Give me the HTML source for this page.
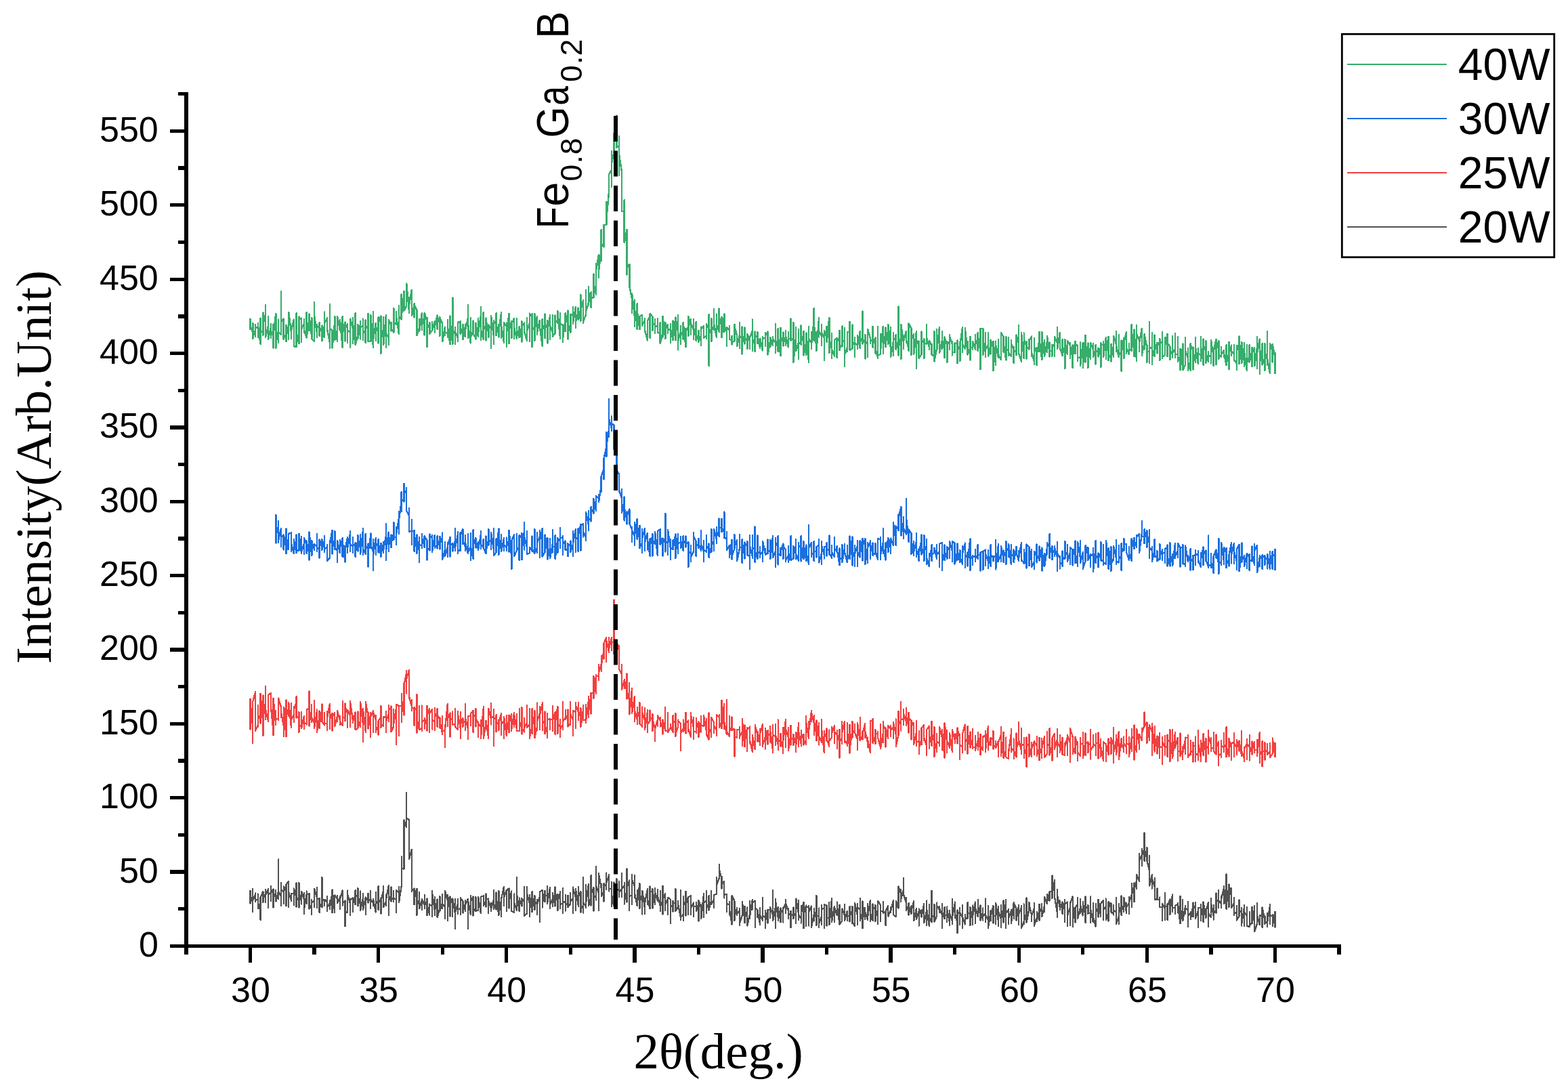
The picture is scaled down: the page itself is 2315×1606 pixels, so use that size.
<!DOCTYPE html>
<html lang="en"><head><meta charset="utf-8"><title>XRD patterns</title>
<style>html,body{margin:0;padding:0;background:#fff;}body{width:2315px;height:1606px;overflow:hidden;}svg{display:block;}</style>
</head><body>
<svg width="2315" height="1606" viewBox="0 0 2315 1606">
<rect width="2315" height="1606" fill="#fff"/>
<g id="traces"><polyline fill="none" stroke="#515151" stroke-width="2.35" stroke-linejoin="round" shape-rendering="crispEdges" points="369.5,1328.3 369.5,1315.0 369.5,1333.7 369.5,1333.6 373.3,1322.4 373.3,1346.4 373.3,1311.9 373.3,1328.5 377.1,1320.5 377.1,1330.9 377.1,1318.5 377.1,1328.7 380.8,1328.1 380.8,1319.5 380.8,1341.4 380.8,1332.6 384.6,1345.0 384.6,1358.2 384.6,1324.7 388.4,1315.9 388.4,1332.1 388.4,1327.2 392.2,1318.6 392.2,1313.4 392.2,1331.8 392.2,1320.9 396.0,1312.2 396.0,1340.2 396.0,1321.3 399.8,1317.1 399.8,1329.7 399.8,1308.2 399.8,1318.0 403.5,1312.4 403.5,1339.7 403.5,1318.4 407.3,1324.4 407.3,1314.0 407.3,1330.5 411.1,1315.7 411.1,1268.5 411.1,1326.9 411.1,1315.5 414.9,1323.3 414.9,1303.4 414.9,1337.3 414.9,1312.5 418.7,1316.7 418.7,1308.6 418.7,1334.0 418.7,1315.5 422.5,1308.1 422.5,1337.3 422.5,1305.8 426.2,1300.7 426.2,1338.9 426.2,1317.2 430.0,1329.1 430.0,1329.7 430.0,1318.6 433.8,1319.6 433.8,1336.2 433.8,1311.5 437.6,1325.7 437.6,1338.5 437.6,1303.3 437.6,1324.1 441.4,1329.5 441.4,1339.6 441.4,1303.3 441.4,1332.3 445.1,1320.0 445.1,1334.5 445.1,1315.9 448.9,1326.9 448.9,1318.0 448.9,1349.3 448.9,1342.6 452.7,1320.2 452.7,1334.3 452.7,1315.6 452.7,1320.9 456.5,1319.0 456.5,1341.5 460.3,1335.9 460.3,1328.2 460.3,1350.4 460.3,1332.0 464.1,1329.2 464.1,1339.2 464.1,1311.6 467.8,1324.3 467.8,1310.4 467.8,1340.1 467.8,1327.2 471.6,1326.2 471.6,1346.9 471.6,1333.5 475.4,1339.3 475.4,1295.2 475.4,1328.6 479.2,1328.6 479.2,1336.7 479.2,1327.8 483.0,1331.6 483.0,1345.1 483.0,1322.8 483.0,1339.1 486.8,1333.6 486.8,1328.7 486.8,1342.4 486.8,1340.1 490.5,1318.4 490.5,1347.2 490.5,1313.6 494.3,1346.9 494.3,1321.5 498.1,1326.8 498.1,1322.0 498.1,1332.8 501.9,1325.1 501.9,1323.5 501.9,1342.4 501.9,1327.8 505.7,1314.4 505.7,1336.6 505.7,1332.6 509.5,1330.5 509.5,1367.0 509.5,1329.4 509.5,1346.2 513.2,1346.6 513.2,1314.5 513.2,1320.3 517.0,1333.9 517.0,1350.5 517.0,1326.8 517.0,1328.2 520.8,1325.5 520.8,1346.1 520.8,1334.7 524.6,1321.2 524.6,1313.8 524.6,1335.3 524.6,1324.0 528.4,1320.6 528.4,1310.7 528.4,1337.3 532.1,1324.9 532.1,1315.5 532.1,1343.6 535.9,1325.9 535.9,1343.0 535.9,1318.7 535.9,1342.7 539.7,1324.9 539.7,1350.0 539.7,1324.4 543.5,1329.2 543.5,1332.9 543.5,1318.9 543.5,1329.3 547.3,1327.8 547.3,1341.3 547.3,1315.3 547.3,1327.3 551.1,1333.5 551.1,1327.2 551.1,1337.3 551.1,1327.8 554.8,1346.4 554.8,1317.1 554.8,1334.1 558.6,1328.8 558.6,1308.2 558.6,1343.1 558.6,1326.8 562.4,1333.3 562.4,1348.4 562.4,1325.4 562.4,1330.4 566.2,1313.5 566.2,1307.7 566.2,1338.9 570.0,1330.1 570.0,1321.1 570.0,1337.1 570.0,1327.3 573.8,1307.2 573.8,1351.3 573.8,1322.6 577.5,1330.5 577.5,1309.2 577.5,1328.7 581.3,1324.8 581.3,1331.4 581.3,1314.9 581.3,1325.6 585.1,1328.0 585.1,1347.3 585.1,1314.0 588.9,1317.3 588.9,1309.0 588.9,1332.3 592.7,1308.0 592.7,1264.5 592.7,1281.7 596.5,1282.6 596.5,1210.6 600.2,1221.0 600.2,1170.3 600.2,1207.5 604.0,1210.2 604.0,1267.9 607.8,1254.1 607.8,1315.6 611.6,1311.6 611.6,1335.3 611.6,1327.4 615.4,1311.7 615.4,1351.1 615.4,1336.6 619.1,1328.5 619.1,1316.8 619.1,1341.3 622.9,1328.5 622.9,1342.6 622.9,1327.4 626.7,1335.6 626.7,1340.7 626.7,1320.9 626.7,1329.7 630.5,1337.0 630.5,1326.5 630.5,1351.1 634.3,1336.6 634.3,1350.5 634.3,1334.6 634.3,1335.2 638.1,1337.2 638.1,1353.2 638.1,1314.8 638.1,1318.3 641.8,1343.5 641.8,1351.2 641.8,1323.6 641.8,1331.8 645.6,1344.3 645.6,1327.4 645.6,1354.1 649.4,1341.2 649.4,1323.3 649.4,1344.4 653.2,1332.4 653.2,1340.6 653.2,1320.0 653.2,1334.3 657.0,1338.9 657.0,1356.0 657.0,1314.9 660.8,1329.8 660.8,1359.2 660.8,1320.7 664.5,1344.4 664.5,1352.7 664.5,1323.5 668.3,1334.8 668.3,1352.7 668.3,1326.5 672.1,1349.7 672.1,1327.2 672.1,1371.3 672.1,1347.0 675.9,1334.0 675.9,1349.0 675.9,1326.6 675.9,1343.2 679.7,1340.5 679.7,1325.2 679.7,1349.8 679.7,1325.6 683.4,1329.9 683.4,1347.6 683.4,1345.6 687.2,1333.7 687.2,1344.8 687.2,1329.4 687.2,1335.5 691.0,1326.8 691.0,1371.3 691.0,1329.0 694.8,1349.5 694.8,1322.4 694.8,1350.3 694.8,1330.3 698.6,1323.4 698.6,1351.6 698.6,1340.4 702.4,1345.0 702.4,1324.2 702.4,1344.6 706.1,1344.1 706.1,1323.6 709.9,1348.0 709.9,1323.6 713.7,1322.6 713.7,1322.4 713.7,1336.9 717.5,1329.6 717.5,1319.6 717.5,1338.8 717.5,1326.4 721.3,1327.5 721.3,1326.5 721.3,1348.1 721.3,1330.2 725.1,1341.0 725.1,1345.1 725.1,1333.1 725.1,1341.5 728.8,1328.7 728.8,1313.9 728.8,1342.0 732.6,1333.4 732.6,1342.4 732.6,1317.5 732.6,1325.0 736.4,1351.1 736.4,1315.2 736.4,1348.9 740.2,1328.3 740.2,1325.9 740.2,1352.9 740.2,1326.8 744.0,1308.7 744.0,1336.8 744.0,1324.6 747.8,1314.3 747.8,1345.1 747.8,1314.6 751.5,1311.2 751.5,1340.4 751.5,1315.7 755.3,1328.5 755.3,1315.5 755.3,1344.9 759.1,1346.6 759.1,1319.5 759.1,1332.7 762.9,1343.7 762.9,1295.2 762.9,1318.7 766.7,1345.1 766.7,1325.5 766.7,1335.5 770.4,1328.4 770.4,1326.1 770.4,1337.4 770.4,1331.1 774.2,1327.2 774.2,1308.7 774.2,1351.7 778.0,1348.4 778.0,1308.7 778.0,1318.7 781.8,1333.0 781.8,1353.0 781.8,1320.6 781.8,1343.9 785.6,1319.6 785.6,1346.3 785.6,1316.2 785.6,1341.9 789.4,1322.3 789.4,1322.1 789.4,1342.8 789.4,1329.8 793.1,1335.0 793.1,1328.3 793.1,1349.7 793.1,1334.6 796.9,1323.8 796.9,1360.8 796.9,1316.6 800.7,1313.8 800.7,1339.5 800.7,1333.6 804.5,1314.8 804.5,1331.0 804.5,1321.9 808.3,1321.5 808.3,1334.1 808.3,1308.2 808.3,1332.2 812.1,1309.7 812.1,1341.3 812.1,1335.2 815.8,1326.9 815.8,1337.9 815.8,1318.4 819.6,1337.4 819.6,1309.6 819.6,1316.8 823.4,1331.6 823.4,1344.3 823.4,1320.3 823.4,1329.3 827.2,1317.9 827.2,1340.6 827.2,1315.6 827.2,1335.6 831.0,1333.1 831.0,1311.0 831.0,1347.9 831.0,1331.3 834.7,1331.6 834.7,1344.5 834.7,1321.1 834.7,1333.5 838.5,1336.0 838.5,1322.0 838.5,1339.1 842.3,1334.1 842.3,1318.4 842.3,1330.8 846.1,1325.4 846.1,1348.2 846.1,1309.5 846.1,1311.9 849.9,1324.1 849.9,1344.0 849.9,1311.9 853.7,1336.1 853.7,1309.1 853.7,1338.4 853.7,1324.5 857.4,1315.8 857.4,1346.5 857.4,1336.4 861.2,1341.0 861.2,1347.5 861.2,1294.6 861.2,1332.6 865.0,1337.7 865.0,1306.1 865.0,1339.6 865.0,1333.5 868.8,1306.5 868.8,1304.7 868.8,1337.2 872.6,1324.3 872.6,1336.7 872.6,1291.8 872.6,1320.2 876.4,1310.0 876.4,1344.5 876.4,1326.2 880.1,1321.5 880.1,1279.0 880.1,1328.5 880.1,1308.1 883.9,1318.1 883.9,1344.2 883.9,1289.4 887.7,1310.5 887.7,1305.3 887.7,1322.8 891.5,1315.4 891.5,1330.4 891.5,1304.1 895.3,1308.1 895.3,1288.5 895.3,1312.9 895.3,1303.1 899.1,1291.5 899.1,1315.5 899.1,1312.1 902.8,1311.5 902.8,1301.9 902.8,1337.6 906.6,1317.8 906.6,1337.6 906.6,1302.3 910.4,1334.3 910.4,1297.3 910.4,1312.7 914.2,1314.6 914.2,1301.3 914.2,1323.8 914.2,1316.7 918.0,1312.5 918.0,1288.6 918.0,1323.7 918.0,1311.9 921.7,1307.7 921.7,1303.1 921.7,1334.5 921.7,1315.6 925.5,1331.4 925.5,1282.1 925.5,1299.1 929.3,1309.6 929.3,1299.5 929.3,1343.8 929.3,1323.0 933.1,1321.3 933.1,1335.0 933.1,1291.0 933.1,1299.0 936.9,1308.2 936.9,1291.6 936.9,1325.4 936.9,1317.9 940.7,1337.0 940.7,1314.0 940.7,1333.9 944.4,1304.2 944.4,1341.2 944.4,1331.8 948.2,1321.2 948.2,1349.5 948.2,1314.6 952.0,1340.7 952.0,1348.9 952.0,1325.7 952.0,1333.4 955.8,1313.4 955.8,1312.2 955.8,1335.4 955.8,1326.7 959.6,1341.3 959.6,1308.6 959.6,1316.4 963.4,1315.7 963.4,1311.9 963.4,1340.5 963.4,1314.8 967.1,1335.1 967.1,1310.8 967.1,1317.2 970.9,1329.5 970.9,1329.7 970.9,1313.3 970.9,1322.8 974.7,1336.4 974.7,1315.1 974.7,1345.2 974.7,1329.4 978.5,1339.1 978.5,1349.4 978.5,1307.7 978.5,1327.7 982.3,1319.1 982.3,1344.4 982.3,1335.2 986.0,1326.2 986.0,1350.3 986.0,1324.6 989.8,1327.9 989.8,1362.6 989.8,1336.3 993.6,1339.2 993.6,1329.7 993.6,1345.5 993.6,1332.5 997.4,1333.4 997.4,1312.3 997.4,1344.9 1001.2,1338.6 1001.2,1329.6 1001.2,1335.3 1005.0,1354.9 1005.0,1358.3 1005.0,1314.1 1005.0,1354.2 1008.7,1349.7 1008.7,1323.4 1008.7,1359.3 1008.7,1336.2 1012.5,1330.2 1012.5,1316.0 1012.5,1351.9 1012.5,1335.4 1016.3,1323.8 1016.3,1350.2 1016.3,1324.2 1020.1,1322.5 1020.1,1350.1 1020.1,1340.6 1023.9,1332.5 1023.9,1352.8 1023.9,1337.4 1027.7,1338.6 1027.7,1332.4 1027.7,1345.3 1031.4,1334.3 1031.4,1359.6 1031.4,1328.9 1035.2,1339.9 1035.2,1336.1 1035.2,1356.2 1039.0,1319.5 1039.0,1353.9 1039.0,1332.1 1042.8,1330.0 1042.8,1315.4 1042.8,1347.6 1042.8,1335.0 1046.6,1340.7 1046.6,1321.8 1046.6,1343.4 1046.6,1343.2 1050.3,1328.3 1050.3,1314.8 1050.3,1334.9 1054.1,1328.0 1054.1,1340.3 1054.1,1321.0 1057.9,1319.8 1057.9,1295.0 1057.9,1307.2 1061.7,1296.3 1061.7,1276.0 1061.7,1283.0 1065.5,1297.2 1065.5,1293.8 1065.5,1311.4 1065.5,1305.5 1069.3,1300.8 1069.3,1325.5 1069.3,1320.8 1073.0,1319.9 1073.0,1346.1 1073.0,1333.5 1076.8,1335.6 1076.8,1350.0 1076.8,1331.2 1076.8,1341.5 1080.6,1364.7 1080.6,1321.9 1084.4,1330.0 1084.4,1358.9 1084.4,1339.3 1088.2,1350.9 1088.2,1339.8 1088.2,1348.8 1092.0,1343.9 1092.0,1340.8 1092.0,1365.7 1092.0,1363.4 1095.7,1351.3 1095.7,1330.9 1099.5,1357.8 1099.5,1337.8 1099.5,1362.0 1099.5,1355.4 1103.3,1344.8 1103.3,1339.5 1103.3,1366.5 1107.1,1348.8 1107.1,1355.8 1107.1,1329.9 1107.1,1352.4 1110.9,1327.6 1110.9,1342.5 1110.9,1333.0 1114.7,1329.7 1114.7,1369.3 1114.7,1339.6 1118.4,1343.4 1118.4,1353.7 1118.4,1343.4 1122.2,1365.1 1122.2,1340.0 1122.2,1351.1 1126.0,1357.9 1126.0,1359.0 1126.0,1325.3 1126.0,1351.7 1129.8,1354.1 1129.8,1369.6 1129.8,1344.4 1133.6,1362.7 1133.6,1342.7 1137.3,1343.2 1137.3,1354.7 1137.3,1338.8 1137.3,1340.6 1141.1,1350.7 1141.1,1313.8 1141.1,1358.9 1141.1,1358.8 1144.9,1339.2 1144.9,1369.8 1144.9,1326.9 1144.9,1329.7 1148.7,1353.5 1148.7,1338.8 1148.7,1358.8 1152.5,1340.2 1152.5,1361.2 1152.5,1347.9 1156.3,1342.6 1156.3,1339.9 1156.3,1361.5 1156.3,1341.7 1160.0,1333.8 1160.0,1328.1 1160.0,1348.3 1160.0,1333.5 1163.8,1344.6 1163.8,1340.8 1163.8,1356.3 1163.8,1349.5 1167.6,1349.3 1167.6,1369.3 1167.6,1344.7 1167.6,1348.7 1171.4,1352.0 1171.4,1339.6 1171.4,1356.2 1171.4,1347.9 1175.2,1351.5 1175.2,1363.2 1175.2,1326.5 1179.0,1349.2 1179.0,1329.3 1179.0,1357.7 1179.0,1349.8 1182.7,1356.0 1182.7,1337.2 1182.7,1362.5 1182.7,1348.5 1186.5,1332.0 1186.5,1370.3 1186.5,1349.3 1190.3,1336.5 1190.3,1366.9 1190.3,1338.3 1194.1,1339.2 1194.1,1366.5 1194.1,1337.2 1194.1,1346.5 1197.9,1337.5 1197.9,1369.2 1201.7,1349.7 1201.7,1359.3 1201.7,1341.3 1201.7,1343.9 1205.4,1356.2 1205.4,1366.2 1205.4,1321.7 1205.4,1352.7 1209.2,1351.2 1209.2,1368.7 1209.2,1340.5 1209.2,1363.5 1213.0,1351.8 1213.0,1364.7 1213.0,1336.3 1213.0,1341.8 1216.8,1340.7 1216.8,1370.4 1216.8,1335.2 1220.6,1336.7 1220.6,1366.5 1220.6,1355.0 1224.3,1354.7 1224.3,1332.4 1224.3,1365.2 1228.1,1326.1 1228.1,1360.6 1231.9,1337.8 1231.9,1360.6 1231.9,1338.5 1235.7,1351.1 1235.7,1331.6 1235.7,1335.8 1239.5,1364.4 1239.5,1335.9 1239.5,1364.2 1243.3,1359.4 1243.3,1360.1 1243.3,1341.5 1247.0,1351.2 1247.0,1334.9 1247.0,1358.9 1250.8,1344.9 1250.8,1358.6 1250.8,1351.2 1254.6,1352.9 1254.6,1337.8 1254.6,1360.3 1254.6,1353.0 1258.4,1343.6 1258.4,1363.0 1258.4,1338.0 1258.4,1360.5 1262.2,1367.2 1262.2,1333.4 1266.0,1351.8 1266.0,1334.3 1266.0,1365.0 1266.0,1339.6 1269.7,1342.0 1269.7,1326.0 1269.7,1358.7 1273.5,1346.2 1273.5,1330.6 1273.5,1370.3 1273.5,1334.3 1277.3,1357.2 1277.3,1340.2 1277.3,1346.1 1281.1,1357.6 1281.1,1333.9 1281.1,1353.3 1284.9,1329.0 1284.9,1359.7 1288.6,1345.7 1288.6,1334.3 1288.6,1358.8 1288.6,1342.5 1292.4,1339.5 1292.4,1360.1 1292.4,1336.1 1292.4,1355.2 1296.2,1342.0 1296.2,1363.6 1296.2,1330.0 1300.0,1336.0 1300.0,1359.5 1300.0,1344.2 1303.8,1346.0 1303.8,1330.6 1303.8,1348.1 1307.6,1345.5 1307.6,1366.2 1307.6,1345.2 1311.3,1336.9 1311.3,1352.6 1315.1,1342.8 1315.1,1339.2 1315.1,1346.5 1315.1,1345.2 1318.9,1328.9 1318.9,1350.3 1318.9,1349.9 1322.7,1353.1 1322.7,1329.7 1322.7,1342.2 1326.5,1328.1 1326.5,1340.8 1326.5,1308.4 1330.3,1320.0 1330.3,1313.1 1330.3,1331.4 1330.3,1326.6 1334.0,1312.5 1334.0,1295.7 1334.0,1320.7 1334.0,1320.3 1337.8,1332.3 1337.8,1325.3 1337.8,1344.2 1337.8,1337.9 1341.6,1344.0 1341.6,1333.0 1341.6,1350.4 1341.6,1349.0 1345.4,1337.5 1345.4,1349.0 1345.4,1344.4 1349.2,1330.4 1349.2,1359.3 1353.0,1340.7 1353.0,1357.2 1356.7,1345.3 1356.7,1366.5 1356.7,1341.4 1360.5,1351.2 1360.5,1353.5 1360.5,1343.6 1360.5,1352.8 1364.3,1333.7 1364.3,1362.1 1368.1,1344.3 1368.1,1329.5 1368.1,1366.2 1368.1,1341.2 1371.9,1367.2 1371.9,1334.8 1371.9,1354.6 1375.6,1361.2 1375.6,1314.7 1375.6,1351.8 1379.4,1352.9 1379.4,1334.8 1379.4,1360.5 1383.2,1352.4 1383.2,1332.5 1383.2,1353.2 1383.2,1336.6 1387.0,1343.5 1387.0,1338.4 1387.0,1347.2 1387.0,1340.6 1390.8,1350.1 1390.8,1333.7 1390.8,1369.8 1390.8,1345.5 1394.6,1356.3 1394.6,1338.9 1394.6,1351.0 1398.3,1350.9 1398.3,1338.6 1398.3,1361.0 1398.3,1343.1 1402.1,1362.0 1402.1,1365.7 1402.1,1344.0 1402.1,1348.3 1405.9,1359.5 1405.9,1327.0 1405.9,1364.0 1405.9,1353.9 1409.7,1334.4 1409.7,1354.6 1409.7,1331.5 1409.7,1348.0 1413.5,1362.2 1413.5,1377.3 1413.5,1343.6 1413.5,1347.0 1417.3,1348.3 1417.3,1364.8 1417.3,1339.8 1417.3,1346.8 1421.0,1354.3 1421.0,1370.0 1421.0,1335.6 1421.0,1353.5 1424.8,1364.4 1424.8,1350.3 1424.8,1355.9 1428.6,1355.4 1428.6,1332.0 1428.6,1347.5 1432.4,1347.9 1432.4,1339.2 1432.4,1365.8 1432.4,1359.4 1436.2,1343.3 1436.2,1336.5 1436.2,1364.8 1436.2,1351.8 1439.9,1331.6 1439.9,1362.7 1439.9,1339.3 1443.7,1352.8 1443.7,1327.9 1443.7,1350.6 1447.5,1336.4 1447.5,1358.8 1447.5,1345.3 1451.3,1358.4 1451.3,1340.5 1451.3,1352.7 1455.1,1348.1 1455.1,1326.5 1455.1,1361.3 1455.1,1351.1 1458.9,1358.5 1458.9,1336.8 1458.9,1369.6 1462.6,1346.8 1462.6,1358.9 1462.6,1344.0 1462.6,1352.8 1466.4,1337.1 1466.4,1362.4 1466.4,1351.0 1470.2,1352.7 1470.2,1364.2 1470.2,1333.3 1474.0,1360.4 1474.0,1338.5 1474.0,1366.8 1474.0,1345.3 1477.8,1356.2 1477.8,1368.8 1477.8,1335.9 1477.8,1357.8 1481.6,1340.1 1481.6,1361.4 1481.6,1329.4 1485.3,1358.8 1485.3,1327.9 1485.3,1370.4 1485.3,1347.7 1489.1,1342.6 1489.1,1364.0 1489.1,1341.8 1489.1,1355.0 1492.9,1344.9 1492.9,1343.0 1492.9,1363.3 1496.7,1332.5 1496.7,1355.7 1496.7,1332.2 1500.5,1341.5 1500.5,1358.4 1504.2,1336.3 1504.2,1364.6 1504.2,1348.8 1508.0,1340.0 1508.0,1337.5 1508.0,1369.9 1511.8,1360.4 1511.8,1363.6 1511.8,1334.5 1511.8,1348.6 1515.6,1360.1 1515.6,1325.5 1515.6,1361.8 1519.4,1341.8 1519.4,1344.4 1519.4,1332.1 1519.4,1335.3 1523.2,1350.8 1523.2,1348.4 1523.2,1360.4 1523.2,1351.0 1526.9,1340.9 1526.9,1366.7 1526.9,1333.1 1526.9,1365.7 1530.7,1354.8 1530.7,1360.3 1530.7,1346.2 1530.7,1359.9 1534.5,1343.5 1534.5,1358.9 1534.5,1334.8 1534.5,1347.2 1538.3,1340.7 1538.3,1334.0 1538.3,1352.8 1542.1,1336.9 1542.1,1346.1 1542.1,1323.6 1545.9,1333.9 1545.9,1320.4 1545.9,1331.8 1549.6,1316.5 1549.6,1329.7 1549.6,1316.7 1553.4,1315.1 1553.4,1292.6 1553.4,1325.7 1553.4,1319.7 1557.2,1299.2 1557.2,1325.0 1561.0,1347.8 1561.0,1313.0 1561.0,1354.2 1561.0,1321.3 1564.8,1339.5 1564.8,1329.5 1564.8,1342.7 1564.8,1340.9 1568.6,1331.7 1568.6,1348.8 1568.6,1345.2 1572.3,1330.5 1572.3,1361.2 1572.3,1327.8 1572.3,1334.3 1576.1,1331.6 1576.1,1367.4 1576.1,1351.3 1579.9,1339.1 1579.9,1366.0 1579.9,1333.6 1583.7,1323.4 1583.7,1367.8 1583.7,1334.7 1587.5,1361.6 1587.5,1340.1 1591.2,1334.6 1591.2,1325.2 1591.2,1355.8 1595.0,1340.1 1595.0,1326.6 1595.0,1348.2 1595.0,1335.9 1598.8,1351.4 1598.8,1331.2 1598.8,1334.2 1602.6,1351.0 1602.6,1362.0 1602.6,1323.6 1602.6,1339.5 1606.4,1339.6 1606.4,1336.3 1606.4,1349.2 1606.4,1347.3 1610.2,1348.8 1610.2,1361.9 1610.2,1323.5 1610.2,1342.9 1613.9,1361.4 1613.9,1333.4 1613.9,1353.2 1617.7,1367.6 1617.7,1334.0 1617.7,1346.7 1621.5,1340.0 1621.5,1353.9 1621.5,1327.9 1625.3,1353.1 1625.3,1333.5 1629.1,1329.0 1629.1,1358.0 1629.1,1342.9 1632.9,1338.1 1632.9,1358.3 1632.9,1326.5 1632.9,1348.3 1636.6,1359.7 1636.6,1330.8 1640.4,1340.6 1640.4,1332.8 1640.4,1346.4 1644.2,1348.9 1644.2,1335.8 1644.2,1350.5 1644.2,1342.9 1648.0,1347.2 1648.0,1324.9 1648.0,1364.3 1651.8,1352.5 1651.8,1364.0 1651.8,1334.3 1651.8,1337.9 1655.6,1349.2 1655.6,1322.6 1655.6,1350.8 1655.6,1335.1 1659.3,1344.0 1659.3,1346.1 1659.3,1324.8 1663.1,1347.1 1663.1,1347.8 1663.1,1333.0 1663.1,1338.6 1666.9,1333.4 1666.9,1349.0 1666.9,1324.2 1666.9,1332.0 1670.7,1321.3 1670.7,1304.4 1670.7,1339.1 1670.7,1321.2 1674.5,1306.8 1674.5,1331.2 1674.5,1303.3 1674.5,1312.4 1678.2,1299.2 1678.2,1312.2 1678.2,1291.3 1682.0,1300.5 1682.0,1260.3 1682.0,1270.1 1685.8,1262.3 1685.8,1278.2 1685.8,1253.3 1689.6,1264.6 1689.6,1229.6 1689.6,1271.0 1689.6,1253.4 1693.4,1268.0 1693.4,1250.8 1693.4,1270.2 1697.2,1286.1 1697.2,1262.8 1697.2,1307.5 1700.9,1291.0 1700.9,1311.5 1700.9,1297.1 1704.7,1308.5 1704.7,1295.7 1704.7,1327.5 1708.5,1327.7 1708.5,1311.6 1708.5,1327.4 1712.3,1328.0 1712.3,1324.6 1712.3,1339.1 1716.1,1338.6 1716.1,1359.1 1716.1,1333.9 1719.9,1341.1 1719.9,1357.7 1719.9,1317.6 1719.9,1338.0 1723.6,1338.0 1723.6,1357.9 1723.6,1333.9 1723.6,1338.0 1727.4,1327.7 1727.4,1350.0 1727.4,1327.6 1727.4,1343.0 1731.2,1320.6 1731.2,1345.9 1731.2,1339.8 1735.0,1340.6 1735.0,1348.8 1735.0,1336.9 1738.8,1334.9 1738.8,1347.0 1738.8,1332.9 1742.5,1363.3 1742.5,1322.7 1742.5,1361.6 1746.3,1340.4 1746.3,1327.9 1746.3,1359.1 1750.1,1337.5 1750.1,1348.8 1750.1,1339.8 1753.9,1344.0 1753.9,1330.7 1753.9,1368.0 1753.9,1351.6 1757.7,1347.6 1757.7,1345.9 1757.7,1356.9 1761.5,1337.3 1761.5,1332.4 1761.5,1353.1 1761.5,1341.6 1765.2,1337.1 1765.2,1331.8 1765.2,1356.2 1765.2,1354.7 1769.0,1344.5 1769.0,1368.7 1769.0,1339.7 1772.8,1340.3 1772.8,1358.7 1772.8,1334.7 1772.8,1353.3 1776.6,1336.8 1776.6,1361.2 1776.6,1331.4 1780.4,1354.8 1780.4,1341.5 1780.4,1345.8 1784.2,1331.7 1784.2,1368.3 1784.2,1348.5 1787.9,1354.2 1787.9,1325.8 1787.9,1333.2 1791.7,1351.6 1791.7,1357.6 1791.7,1336.3 1791.7,1349.0 1795.5,1343.5 1795.5,1347.8 1795.5,1318.4 1795.5,1331.1 1799.3,1327.9 1799.3,1340.3 1799.3,1314.1 1799.3,1329.7 1803.1,1333.7 1803.1,1322.8 1803.1,1340.2 1803.1,1327.2 1806.9,1311.1 1806.9,1334.1 1806.9,1307.7 1806.9,1309.2 1810.6,1342.0 1810.6,1290.4 1810.6,1308.4 1814.4,1336.2 1814.4,1339.3 1814.4,1305.5 1818.2,1322.7 1818.2,1310.9 1818.2,1340.2 1822.0,1332.9 1822.0,1324.8 1822.0,1350.6 1822.0,1348.4 1825.8,1346.6 1825.8,1337.4 1825.8,1358.6 1829.5,1352.3 1829.5,1328.5 1829.5,1352.8 1829.5,1343.3 1833.3,1346.8 1833.3,1366.6 1833.3,1340.4 1833.3,1362.8 1837.1,1338.7 1837.1,1366.9 1837.1,1336.3 1837.1,1346.3 1840.9,1351.8 1840.9,1339.2 1840.9,1367.1 1844.7,1367.9 1844.7,1346.4 1844.7,1365.8 1848.5,1362.1 1848.5,1363.3 1848.5,1338.8 1852.2,1362.4 1852.2,1337.0 1852.2,1375.3 1856.0,1363.6 1856.0,1333.5 1856.0,1351.1 1859.8,1365.3 1859.8,1351.0 1863.6,1352.5 1863.6,1368.9 1863.6,1339.4 1867.4,1357.9 1867.4,1364.2 1867.4,1351.7 1867.4,1362.6 1871.2,1360.8 1871.2,1368.4 1871.2,1347.9 1871.2,1360.3 1874.9,1337.8 1874.9,1363.8 1874.9,1335.4 1874.9,1351.3 1878.7,1352.0 1878.7,1350.0 1878.7,1366.8 1882.5,1345.8 1882.5,1368.4 1882.5,1350.8"/>
<polyline fill="none" stroke="#F14040" stroke-width="2.35" stroke-linejoin="round" shape-rendering="crispEdges" points="369.5,1073.6 369.5,1031.7 369.5,1076.7 373.3,1039.1 373.3,1096.8 373.3,1035.3 377.1,1021.4 377.1,1078.7 380.8,1070.4 380.8,1072.8 380.8,1041.4 380.8,1055.0 384.6,1063.0 384.6,1023.7 384.6,1067.7 388.4,1026.5 388.4,1086.2 388.4,1033.8 392.2,1056.8 392.2,1012.6 392.2,1061.8 392.2,1047.6 396.0,1064.6 396.0,1026.0 399.8,1023.1 399.8,1046.0 399.8,1041.4 403.5,1079.4 403.5,1085.3 403.5,1030.9 407.3,1069.9 407.3,1048.8 407.3,1062.0 411.1,1060.7 411.1,1063.0 411.1,1030.5 414.9,1043.6 414.9,1042.2 414.9,1059.0 414.9,1050.2 418.7,1071.1 418.7,1043.7 418.7,1087.3 422.5,1033.2 422.5,1087.0 422.5,1044.8 426.2,1056.5 426.2,1036.9 430.0,1074.2 430.0,1037.7 430.0,1062.2 433.8,1055.0 433.8,1042.8 433.8,1065.7 433.8,1047.8 437.6,1036.1 437.6,1028.2 437.6,1059.6 441.4,1057.9 441.4,1050.8 441.4,1080.7 441.4,1072.1 445.1,1071.1 445.1,1051.3 445.1,1075.2 448.9,1056.7 448.9,1076.2 448.9,1067.1 452.7,1068.4 452.7,1069.5 452.7,1047.6 456.5,1045.8 456.5,1071.8 456.5,1020.3 456.5,1047.4 460.3,1066.1 460.3,1040.4 460.3,1059.3 464.1,1067.8 464.1,1034.0 464.1,1075.0 467.8,1050.7 467.8,1047.5 467.8,1080.9 471.6,1057.2 471.6,1074.8 471.6,1049.3 471.6,1070.4 475.4,1046.7 475.4,1039.4 475.4,1065.0 479.2,1070.4 479.2,1051.8 479.2,1067.7 483.0,1068.6 483.0,1078.2 483.0,1049.7 483.0,1059.6 486.8,1039.3 486.8,1076.4 486.8,1052.4 490.5,1063.7 490.5,1078.7 490.5,1052.7 494.3,1057.5 494.3,1052.0 494.3,1072.0 498.1,1057.0 498.1,1065.0 498.1,1049.1 501.9,1063.1 501.9,1056.6 501.9,1070.4 501.9,1065.2 505.7,1070.9 505.7,1035.0 505.7,1058.1 509.5,1060.0 509.5,1038.4 509.5,1064.1 509.5,1042.6 513.2,1053.7 513.2,1073.8 513.2,1048.0 517.0,1056.5 517.0,1073.1 517.0,1035.3 520.8,1062.4 520.8,1056.6 520.8,1066.8 520.8,1065.9 524.6,1051.6 524.6,1077.2 528.4,1075.2 528.4,1050.5 528.4,1061.9 532.1,1073.2 532.1,1035.7 535.9,1068.7 535.9,1094.7 535.9,1046.0 539.7,1078.7 539.7,1080.7 539.7,1035.8 543.5,1056.7 543.5,1075.7 543.5,1051.9 547.3,1074.3 547.3,1087.9 547.3,1052.1 547.3,1057.6 551.1,1049.9 551.1,1049.4 551.1,1080.8 551.1,1052.0 554.8,1062.0 554.8,1056.4 554.8,1081.1 554.8,1078.9 558.6,1071.2 558.6,1084.6 558.6,1064.1 562.4,1058.9 562.4,1073.9 562.4,1042.0 562.4,1068.7 566.2,1071.7 566.2,1058.1 566.2,1058.7 570.0,1058.6 570.0,1050.0 570.0,1081.3 570.0,1064.7 573.8,1053.5 573.8,1041.2 573.8,1065.4 573.8,1047.1 577.5,1045.2 577.5,1042.2 577.5,1080.3 581.3,1072.4 581.3,1046.9 581.3,1068.5 585.1,1044.7 585.1,1099.0 585.1,1039.8 588.9,1042.0 588.9,1086.3 588.9,1041.6 592.7,1042.4 592.7,1065.7 592.7,1024.0 592.7,1031.5 596.5,1055.8 596.5,1008.7 596.5,1011.2 600.2,992.6 600.2,1023.5 600.2,989.7 600.2,1001.8 604.0,989.5 604.0,1030.5 604.0,1028.2 607.8,1042.5 607.8,1032.9 607.8,1049.2 607.8,1044.4 611.6,1045.7 611.6,1071.1 611.6,1044.0 611.6,1048.3 615.4,1045.5 615.4,1081.5 615.4,1024.7 615.4,1079.9 619.1,1062.9 619.1,1041.8 619.1,1077.1 622.9,1074.7 622.9,1041.5 622.9,1078.7 622.9,1065.7 626.7,1062.9 626.7,1059.8 626.7,1075.5 626.7,1060.7 630.5,1071.4 630.5,1042.0 630.5,1078.6 630.5,1056.3 634.3,1045.9 634.3,1080.7 634.3,1052.9 638.1,1046.7 638.1,1076.5 638.1,1063.1 641.8,1064.9 641.8,1044.9 641.8,1077.9 641.8,1052.9 645.6,1059.0 645.6,1072.9 645.6,1045.8 645.6,1054.5 649.4,1062.4 649.4,1058.7 649.4,1074.5 649.4,1064.3 653.2,1082.9 653.2,1084.1 653.2,1056.8 653.2,1079.7 657.0,1077.5 657.0,1103.4 657.0,1069.8 657.0,1077.4 660.8,1038.7 660.8,1072.3 660.8,1053.2 664.5,1061.5 664.5,1087.6 664.5,1052.1 664.5,1059.0 668.3,1063.6 668.3,1050.5 668.3,1070.1 668.3,1069.0 672.1,1069.7 672.1,1046.2 672.1,1072.7 675.9,1076.7 675.9,1049.8 675.9,1053.8 679.7,1074.8 679.7,1051.1 679.7,1090.2 679.7,1069.0 683.4,1060.0 683.4,1073.3 683.4,1064.0 687.2,1066.3 687.2,1038.6 687.2,1077.6 687.2,1060.7 691.0,1076.1 691.0,1090.5 691.0,1057.1 694.8,1057.2 694.8,1071.4 694.8,1053.7 698.6,1048.8 698.6,1080.8 698.6,1056.0 702.4,1057.5 702.4,1045.9 702.4,1072.4 702.4,1060.4 706.1,1067.1 706.1,1066.8 706.1,1087.6 706.1,1068.2 709.9,1072.5 709.9,1062.9 709.9,1090.4 713.7,1045.5 713.7,1042.7 713.7,1090.3 717.5,1068.3 717.5,1075.9 717.5,1063.9 721.3,1090.3 721.3,1046.2 725.1,1061.3 725.1,1069.5 725.1,1038.3 725.1,1059.2 728.8,1057.8 728.8,1047.0 728.8,1101.2 728.8,1062.6 732.6,1058.1 732.6,1080.3 732.6,1055.2 732.6,1067.6 736.4,1067.7 736.4,1078.2 736.4,1062.5 736.4,1066.7 740.2,1053.3 740.2,1084.6 740.2,1068.5 744.0,1064.5 744.0,1090.0 744.0,1057.7 747.8,1085.9 747.8,1055.6 747.8,1063.4 751.5,1081.1 751.5,1055.3 751.5,1068.0 755.3,1054.1 755.3,1053.9 755.3,1079.0 755.3,1076.7 759.1,1051.7 759.1,1073.1 759.1,1054.8 762.9,1076.5 762.9,1054.3 762.9,1078.9 766.7,1078.9 766.7,1046.4 766.7,1064.7 770.4,1074.8 770.4,1044.3 770.4,1083.5 770.4,1074.9 774.2,1080.5 774.2,1059.6 774.2,1074.3 778.0,1067.0 778.0,1040.8 778.0,1074.1 781.8,1069.1 781.8,1046.3 781.8,1089.7 785.6,1071.4 785.6,1083.2 785.6,1045.8 785.6,1054.5 789.4,1072.5 789.4,1048.8 789.4,1089.3 793.1,1072.2 793.1,1077.5 793.1,1037.5 793.1,1064.9 796.9,1053.0 796.9,1043.1 796.9,1076.8 796.9,1055.7 800.7,1039.1 800.7,1037.4 800.7,1078.4 800.7,1068.4 804.5,1063.5 804.5,1050.1 804.5,1083.0 808.3,1071.3 808.3,1089.0 808.3,1052.9 808.3,1062.4 812.1,1060.7 812.1,1077.4 812.1,1062.0 815.8,1062.3 815.8,1078.7 815.8,1042.2 815.8,1051.8 819.6,1065.6 819.6,1051.1 819.6,1083.8 819.6,1068.1 823.4,1042.8 823.4,1082.8 823.4,1067.7 827.2,1073.2 827.2,1087.9 827.2,1062.4 827.2,1075.4 831.0,1070.0 831.0,1036.4 831.0,1077.4 831.0,1065.2 834.7,1059.5 834.7,1048.0 834.7,1062.2 834.7,1055.4 838.5,1062.4 838.5,1047.2 838.5,1072.5 842.3,1067.6 842.3,1069.6 842.3,1036.0 842.3,1054.7 846.1,1062.7 846.1,1085.6 846.1,1048.7 849.9,1051.7 849.9,1075.1 849.9,1037.4 849.9,1041.2 853.7,1050.5 853.7,1062.8 853.7,1036.7 853.7,1049.9 857.4,1058.9 857.4,1044.9 857.4,1073.0 861.2,1047.1 861.2,1041.2 861.2,1063.3 865.0,1061.8 865.0,1039.6 865.0,1067.1 865.0,1065.0 868.8,1035.6 868.8,1058.8 868.8,1028.1 872.6,1053.7 872.6,1022.7 876.4,1023.4 876.4,997.7 876.4,1031.2 880.1,996.0 880.1,1023.7 880.1,998.5 883.9,997.6 883.9,1004.1 883.9,980.9 883.9,993.7 887.7,980.6 887.7,991.3 887.7,968.1 887.7,982.3 891.5,961.0 891.5,972.4 891.5,949.5 895.3,941.2 895.3,977.3 895.3,945.5 899.1,962.7 899.1,941.1 899.1,957.7 902.8,941.8 902.8,941.4 902.8,959.8 902.8,948.7 906.6,947.1 906.6,885.5 906.6,965.7 906.6,954.0 910.4,955.8 910.4,959.2 910.4,947.4 914.2,960.5 914.2,953.0 914.2,988.1 918.0,995.8 918.0,981.2 918.0,1018.2 921.7,1004.3 921.7,1016.1 921.7,1003.2 925.5,1020.9 925.5,1031.8 925.5,994.4 925.5,1019.6 929.3,1034.5 929.3,1008.4 929.3,1054.6 933.1,1016.1 933.1,1052.9 936.9,1027.9 936.9,1065.2 936.9,1048.5 940.7,1062.0 940.7,1043.7 940.7,1069.4 940.7,1049.1 944.4,1059.9 944.4,1036.7 944.4,1068.5 948.2,1071.4 948.2,1043.5 948.2,1073.4 948.2,1051.6 952.0,1063.8 952.0,1045.2 952.0,1077.2 955.8,1051.0 955.8,1047.6 955.8,1080.7 955.8,1068.9 959.6,1064.5 959.6,1048.4 959.6,1059.1 963.4,1062.0 963.4,1079.2 963.4,1053.7 963.4,1061.9 967.1,1074.9 967.1,1072.7 967.1,1093.6 967.1,1075.5 970.9,1062.2 970.9,1071.7 970.9,1056.4 974.7,1064.1 974.7,1058.8 974.7,1072.5 974.7,1065.7 978.5,1074.9 978.5,1083.6 978.5,1062.1 982.3,1078.5 982.3,1044.0 982.3,1078.1 986.0,1079.2 986.0,1051.9 986.0,1081.3 989.8,1074.2 989.8,1069.1 989.8,1072.0 993.6,1081.0 993.6,1056.0 993.6,1063.7 997.4,1066.7 997.4,1053.3 997.4,1087.2 997.4,1083.4 1001.2,1072.3 1001.2,1062.5 1001.2,1064.8 1005.0,1068.0 1005.0,1107.8 1005.0,1082.4 1008.7,1074.9 1008.7,1062.5 1008.7,1079.7 1008.7,1063.5 1012.5,1082.6 1012.5,1051.9 1012.5,1067.5 1016.3,1063.4 1016.3,1080.3 1016.3,1076.0 1020.1,1088.2 1020.1,1052.3 1020.1,1055.9 1023.9,1073.5 1023.9,1091.4 1023.9,1058.9 1023.9,1079.7 1027.7,1079.8 1027.7,1059.8 1027.7,1082.2 1027.7,1075.5 1031.4,1065.4 1031.4,1087.7 1035.2,1064.5 1035.2,1056.8 1035.2,1080.5 1035.2,1070.4 1039.0,1072.0 1039.0,1056.3 1042.8,1078.8 1042.8,1060.9 1042.8,1084.4 1042.8,1083.5 1046.6,1091.3 1046.6,1052.3 1046.6,1074.7 1050.3,1081.5 1050.3,1087.8 1050.3,1059.1 1054.1,1066.5 1054.1,1082.2 1054.1,1066.2 1054.1,1070.4 1057.9,1077.8 1057.9,1085.8 1057.9,1055.0 1061.7,1058.4 1061.7,1055.3 1061.7,1074.0 1061.7,1065.7 1065.5,1075.0 1065.5,1033.8 1069.3,1076.2 1069.3,1039.1 1069.3,1066.3 1073.0,1083.9 1073.0,1033.4 1073.0,1079.3 1076.8,1086.7 1076.8,1057.2 1076.8,1079.0 1080.6,1073.6 1080.6,1078.3 1080.6,1058.6 1080.6,1075.1 1084.4,1078.1 1084.4,1076.1 1084.4,1116.5 1084.4,1087.4 1088.2,1088.6 1088.2,1077.0 1092.0,1077.5 1092.0,1090.2 1092.0,1073.3 1092.0,1087.5 1095.7,1080.1 1095.7,1101.1 1095.7,1061.4 1099.5,1102.3 1099.5,1070.1 1099.5,1096.3 1103.3,1073.8 1103.3,1109.2 1103.3,1077.1 1107.1,1072.6 1107.1,1096.6 1107.1,1092.6 1110.9,1110.2 1110.9,1110.3 1110.9,1085.3 1114.7,1105.8 1114.7,1070.3 1118.4,1084.0 1118.4,1094.4 1118.4,1079.8 1122.2,1098.3 1122.2,1100.0 1122.2,1076.2 1122.2,1082.7 1126.0,1069.0 1126.0,1102.1 1126.0,1100.3 1129.8,1088.2 1129.8,1105.5 1129.8,1075.1 1133.6,1098.5 1133.6,1077.8 1133.6,1085.7 1137.3,1083.5 1137.3,1095.6 1137.3,1072.3 1137.3,1079.7 1141.1,1108.3 1141.1,1111.1 1141.1,1069.8 1141.1,1084.2 1144.9,1088.1 1144.9,1100.2 1144.9,1068.8 1144.9,1084.1 1148.7,1098.7 1148.7,1106.9 1148.7,1062.5 1148.7,1094.0 1152.5,1092.9 1152.5,1101.8 1152.5,1082.9 1152.5,1090.7 1156.3,1104.8 1156.3,1112.4 1156.3,1073.9 1156.3,1093.4 1160.0,1062.5 1160.0,1102.5 1160.0,1076.6 1163.8,1088.1 1163.8,1074.0 1163.8,1107.9 1167.6,1084.7 1167.6,1070.7 1167.6,1099.7 1167.6,1091.4 1171.4,1089.8 1171.4,1084.2 1171.4,1100.1 1171.4,1099.8 1175.2,1087.3 1175.2,1110.1 1175.2,1080.6 1175.2,1100.5 1179.0,1070.1 1179.0,1066.8 1179.0,1102.3 1179.0,1079.5 1182.7,1097.8 1182.7,1077.9 1182.7,1101.3 1182.7,1082.7 1186.5,1091.3 1186.5,1083.8 1186.5,1099.4 1190.3,1092.0 1190.3,1098.8 1190.3,1057.4 1190.3,1067.4 1194.1,1090.2 1194.1,1065.2 1194.1,1079.2 1197.9,1050.8 1197.9,1065.4 1197.9,1048.8 1197.9,1051.5 1201.7,1066.8 1201.7,1084.7 1201.7,1055.9 1201.7,1083.4 1205.4,1063.4 1205.4,1093.3 1209.2,1067.3 1209.2,1099.5 1209.2,1086.6 1213.0,1095.9 1213.0,1062.3 1213.0,1074.2 1216.8,1111.1 1216.8,1079.4 1216.8,1088.9 1220.6,1080.9 1220.6,1075.5 1220.6,1093.4 1220.6,1090.9 1224.3,1101.7 1224.3,1077.6 1224.3,1094.0 1228.1,1088.4 1228.1,1073.0 1228.1,1082.3 1231.9,1071.1 1231.9,1097.2 1231.9,1080.4 1235.7,1084.4 1235.7,1104.9 1235.7,1078.2 1235.7,1083.6 1239.5,1094.8 1239.5,1118.7 1239.5,1076.9 1239.5,1093.8 1243.3,1090.5 1243.3,1097.7 1243.3,1065.1 1243.3,1081.6 1247.0,1064.6 1247.0,1096.2 1247.0,1092.4 1250.8,1098.9 1250.8,1066.7 1250.8,1101.4 1254.6,1078.0 1254.6,1069.7 1254.6,1111.4 1254.6,1105.2 1258.4,1077.9 1258.4,1064.7 1258.4,1088.8 1258.4,1082.7 1262.2,1078.0 1262.2,1069.2 1262.2,1081.4 1266.0,1092.2 1266.0,1107.4 1266.0,1066.7 1269.7,1093.1 1269.7,1059.4 1269.7,1092.8 1273.5,1086.0 1273.5,1091.6 1273.5,1080.0 1273.5,1082.9 1277.3,1067.8 1277.3,1089.2 1277.3,1079.8 1281.1,1096.2 1281.1,1088.5 1281.1,1103.3 1281.1,1092.4 1284.9,1111.2 1284.9,1064.6 1288.6,1063.6 1288.6,1060.8 1288.6,1097.2 1292.4,1086.6 1292.4,1077.1 1292.4,1097.7 1292.4,1082.7 1296.2,1083.5 1296.2,1080.1 1296.2,1090.0 1296.2,1089.6 1300.0,1103.0 1300.0,1068.9 1300.0,1105.2 1303.8,1082.4 1303.8,1095.6 1303.8,1065.2 1303.8,1070.1 1307.6,1077.0 1307.6,1102.5 1307.6,1074.3 1311.3,1090.2 1311.3,1071.1 1315.1,1076.5 1315.1,1087.1 1315.1,1071.3 1315.1,1078.3 1318.9,1072.8 1318.9,1089.8 1318.9,1065.7 1322.7,1084.1 1322.7,1061.5 1322.7,1102.0 1326.5,1084.8 1326.5,1049.8 1326.5,1063.3 1330.3,1069.1 1330.3,1036.0 1330.3,1078.5 1330.3,1062.8 1334.0,1060.6 1334.0,1046.9 1334.0,1069.6 1334.0,1053.1 1337.8,1065.4 1337.8,1070.6 1337.8,1044.6 1337.8,1057.4 1341.6,1073.1 1341.6,1051.7 1341.6,1081.4 1341.6,1059.0 1345.4,1064.7 1345.4,1091.6 1345.4,1063.2 1345.4,1064.0 1349.2,1071.6 1349.2,1067.4 1349.2,1098.7 1349.2,1098.5 1353.0,1081.0 1353.0,1063.6 1353.0,1101.0 1353.0,1095.0 1356.7,1094.5 1356.7,1112.8 1356.7,1079.1 1356.7,1104.2 1360.5,1091.4 1360.5,1099.2 1360.5,1074.8 1364.3,1069.8 1364.3,1092.9 1364.3,1089.2 1368.1,1100.8 1368.1,1114.9 1368.1,1077.1 1368.1,1077.5 1371.9,1071.6 1371.9,1104.8 1371.9,1085.2 1375.6,1099.3 1375.6,1064.7 1375.6,1101.0 1375.6,1095.6 1379.4,1081.2 1379.4,1117.0 1379.4,1072.9 1379.4,1093.8 1383.2,1106.2 1383.2,1083.4 1383.2,1110.0 1383.2,1094.7 1387.0,1097.1 1387.0,1101.2 1387.0,1072.8 1390.8,1088.6 1390.8,1107.4 1390.8,1076.9 1394.6,1118.6 1394.6,1067.5 1398.3,1096.6 1398.3,1111.1 1398.3,1078.2 1398.3,1093.7 1402.1,1103.8 1402.1,1103.9 1402.1,1081.9 1405.9,1109.2 1405.9,1110.4 1405.9,1077.5 1409.7,1091.7 1409.7,1083.6 1409.7,1096.7 1409.7,1093.0 1413.5,1078.6 1413.5,1097.8 1413.5,1074.5 1413.5,1076.8 1417.3,1088.6 1417.3,1120.9 1417.3,1084.0 1417.3,1099.2 1421.0,1102.5 1421.0,1110.9 1421.0,1083.3 1424.8,1069.4 1424.8,1106.6 1424.8,1090.5 1428.6,1095.4 1428.6,1112.4 1428.6,1072.2 1428.6,1103.6 1432.4,1080.4 1432.4,1103.6 1436.2,1090.1 1436.2,1105.0 1436.2,1076.4 1436.2,1103.0 1439.9,1103.4 1439.9,1086.2 1439.9,1108.1 1443.7,1092.9 1443.7,1081.0 1443.7,1106.8 1447.5,1084.0 1447.5,1114.2 1447.5,1100.6 1451.3,1107.4 1451.3,1086.8 1451.3,1088.0 1455.1,1084.8 1455.1,1078.8 1455.1,1110.4 1455.1,1107.3 1458.9,1072.0 1458.9,1107.3 1458.9,1101.7 1462.6,1092.0 1462.6,1089.1 1462.6,1100.0 1462.6,1091.5 1466.4,1090.0 1466.4,1105.4 1466.4,1079.0 1466.4,1099.4 1470.2,1102.7 1470.2,1093.8 1470.2,1104.1 1474.0,1093.6 1474.0,1117.4 1474.0,1095.9 1477.8,1085.1 1477.8,1073.3 1477.8,1115.7 1481.6,1089.0 1481.6,1080.7 1481.6,1119.2 1485.3,1107.0 1485.3,1088.5 1485.3,1117.6 1489.1,1120.1 1489.1,1105.5 1489.1,1110.3 1492.9,1082.2 1492.9,1110.4 1492.9,1075.6 1492.9,1104.0 1496.7,1108.3 1496.7,1090.6 1496.7,1120.0 1496.7,1107.2 1500.5,1117.9 1500.5,1082.6 1500.5,1105.7 1504.2,1093.8 1504.2,1066.2 1504.2,1099.3 1504.2,1092.1 1508.0,1107.7 1508.0,1075.5 1508.0,1112.6 1508.0,1099.5 1511.8,1099.5 1511.8,1119.2 1511.8,1089.3 1511.8,1104.4 1515.6,1115.1 1515.6,1131.8 1515.6,1088.6 1515.6,1100.5 1519.4,1097.8 1519.4,1116.8 1519.4,1084.1 1519.4,1100.6 1523.2,1117.1 1523.2,1096.4 1523.2,1105.0 1526.9,1094.4 1526.9,1113.6 1526.9,1094.2 1526.9,1095.3 1530.7,1100.5 1530.7,1087.1 1530.7,1116.0 1534.5,1104.0 1534.5,1122.1 1534.5,1088.8 1534.5,1113.8 1538.3,1103.6 1538.3,1089.7 1538.3,1119.3 1538.3,1103.6 1542.1,1087.4 1542.1,1118.0 1542.1,1117.8 1545.9,1112.8 1545.9,1080.2 1545.9,1098.2 1549.6,1101.2 1549.6,1075.1 1549.6,1114.5 1553.4,1100.6 1553.4,1122.6 1553.4,1089.9 1557.2,1082.8 1557.2,1106.1 1557.2,1104.8 1561.0,1090.7 1561.0,1076.2 1561.0,1116.8 1561.0,1095.0 1564.8,1102.9 1564.8,1085.4 1564.8,1110.5 1568.6,1088.7 1568.6,1113.7 1572.3,1114.6 1572.3,1096.5 1572.3,1102.4 1576.1,1087.8 1576.1,1084.9 1576.1,1114.6 1576.1,1085.9 1579.9,1096.2 1579.9,1124.6 1579.9,1075.1 1583.7,1087.6 1583.7,1113.3 1587.5,1101.1 1587.5,1112.0 1587.5,1087.8 1591.2,1102.1 1591.2,1095.2 1591.2,1123.1 1591.2,1110.7 1595.0,1115.9 1595.0,1089.0 1595.0,1098.6 1598.8,1097.6 1598.8,1081.1 1598.8,1119.3 1602.6,1093.8 1602.6,1115.1 1602.6,1082.5 1602.6,1094.0 1606.4,1098.9 1606.4,1095.1 1606.4,1111.3 1606.4,1096.6 1610.2,1100.1 1610.2,1120.5 1610.2,1076.6 1610.2,1107.6 1613.9,1100.8 1613.9,1102.6 1613.9,1084.6 1613.9,1098.8 1617.7,1101.2 1617.7,1115.0 1617.7,1083.2 1617.7,1098.0 1621.5,1095.8 1621.5,1081.4 1621.5,1119.9 1621.5,1095.6 1625.3,1107.1 1625.3,1117.3 1625.3,1090.8 1625.3,1103.1 1629.1,1123.2 1629.1,1095.0 1632.9,1099.0 1632.9,1123.9 1632.9,1097.9 1636.6,1114.1 1636.6,1090.4 1636.6,1098.0 1640.4,1094.9 1640.4,1113.2 1640.4,1089.3 1644.2,1100.3 1644.2,1126.0 1644.2,1073.9 1644.2,1110.9 1648.0,1093.1 1648.0,1085.5 1648.0,1113.7 1651.8,1079.9 1651.8,1121.3 1655.6,1089.9 1655.6,1102.4 1655.6,1097.3 1659.3,1106.8 1659.3,1110.2 1659.3,1087.5 1659.3,1097.6 1663.1,1102.7 1663.1,1111.9 1663.1,1076.9 1663.1,1097.0 1666.9,1099.5 1666.9,1117.2 1666.9,1087.6 1666.9,1115.7 1670.7,1089.3 1670.7,1076.4 1670.7,1109.3 1670.7,1088.7 1674.5,1088.2 1674.5,1070.6 1674.5,1121.9 1674.5,1096.9 1678.2,1110.0 1678.2,1076.2 1682.0,1099.6 1682.0,1105.8 1682.0,1083.8 1685.8,1092.9 1685.8,1075.2 1685.8,1082.3 1689.6,1070.5 1689.6,1051.6 1689.6,1072.3 1693.4,1066.3 1693.4,1097.3 1693.4,1066.1 1697.2,1092.9 1697.2,1069.7 1697.2,1071.2 1700.9,1080.0 1700.9,1114.9 1700.9,1068.4 1704.7,1108.1 1704.7,1072.4 1704.7,1109.6 1704.7,1104.8 1708.5,1086.6 1708.5,1112.5 1708.5,1110.0 1712.3,1082.4 1712.3,1119.2 1712.3,1102.3 1716.1,1103.6 1716.1,1088.3 1716.1,1128.2 1716.1,1095.0 1719.9,1103.4 1719.9,1114.5 1719.9,1085.9 1719.9,1101.3 1723.6,1104.1 1723.6,1116.9 1723.6,1084.7 1723.6,1092.2 1727.4,1094.7 1727.4,1077.0 1727.4,1123.8 1727.4,1119.4 1731.2,1092.7 1731.2,1077.1 1731.2,1118.8 1735.0,1081.3 1735.0,1103.5 1738.8,1089.2 1738.8,1123.0 1738.8,1109.4 1742.5,1108.7 1742.5,1082.6 1742.5,1116.2 1746.3,1106.7 1746.3,1102.0 1746.3,1121.4 1746.3,1110.9 1750.1,1091.3 1750.1,1113.1 1750.1,1088.5 1753.9,1089.5 1753.9,1084.8 1753.9,1117.7 1757.7,1111.2 1757.7,1093.0 1757.7,1114.2 1757.7,1107.4 1761.5,1111.6 1761.5,1124.5 1761.5,1095.9 1761.5,1100.1 1765.2,1101.7 1765.2,1124.4 1765.2,1087.5 1765.2,1112.5 1769.0,1114.5 1769.0,1121.6 1769.0,1078.0 1769.0,1097.0 1772.8,1117.3 1772.8,1124.1 1772.8,1093.1 1776.6,1114.8 1776.6,1083.0 1776.6,1089.5 1780.4,1111.1 1780.4,1124.4 1780.4,1089.7 1780.4,1100.0 1784.2,1105.0 1784.2,1112.5 1784.2,1078.2 1784.2,1087.1 1787.9,1098.2 1787.9,1109.1 1787.9,1089.0 1787.9,1104.8 1791.7,1103.9 1791.7,1080.8 1791.7,1108.7 1795.5,1113.7 1795.5,1084.3 1795.5,1093.7 1799.3,1103.7 1799.3,1130.4 1799.3,1094.5 1799.3,1115.0 1803.1,1112.4 1803.1,1093.1 1803.1,1118.3 1803.1,1100.7 1806.9,1103.3 1806.9,1082.2 1806.9,1110.1 1806.9,1103.3 1810.6,1098.0 1810.6,1072.8 1810.6,1117.3 1810.6,1102.4 1814.4,1116.5 1814.4,1090.3 1818.2,1104.9 1818.2,1122.2 1818.2,1097.0 1822.0,1096.1 1822.0,1116.5 1822.0,1082.3 1822.0,1096.7 1825.8,1103.1 1825.8,1114.2 1825.8,1091.7 1829.5,1105.7 1829.5,1108.7 1829.5,1093.3 1829.5,1094.7 1833.3,1115.8 1833.3,1078.9 1833.3,1108.8 1837.1,1119.8 1837.1,1124.4 1837.1,1103.0 1837.1,1105.2 1840.9,1097.4 1840.9,1090.9 1840.9,1121.2 1840.9,1097.4 1844.7,1102.6 1844.7,1122.5 1844.7,1084.9 1844.7,1101.2 1848.5,1111.7 1848.5,1113.7 1848.5,1094.2 1848.5,1107.8 1852.2,1094.7 1852.2,1111.1 1852.2,1106.8 1856.0,1107.6 1856.0,1092.2 1856.0,1115.6 1859.8,1081.2 1859.8,1125.8 1859.8,1115.2 1863.6,1107.1 1863.6,1131.3 1863.6,1094.0 1863.6,1110.0 1867.4,1108.2 1867.4,1121.5 1867.4,1095.7 1867.4,1107.7 1871.2,1108.9 1871.2,1098.3 1871.2,1113.6 1874.9,1108.9 1874.9,1096.6 1874.9,1118.3 1878.7,1112.4 1878.7,1089.6 1882.5,1117.3 1882.5,1097.0 1882.5,1106.6"/>
<polyline fill="none" stroke="#1A6FDF" stroke-width="2.45" stroke-linejoin="round" shape-rendering="crispEdges" points="407.3,779.7 407.3,760.0 407.3,801.5 407.3,775.2 411.1,787.5 411.1,768.6 411.1,800.7 411.1,797.3 414.9,780.2 414.9,806.9 414.9,792.7 418.7,789.4 418.7,811.4 418.7,807.5 422.5,788.7 422.5,780.3 422.5,817.0 426.2,793.1 426.2,810.7 426.2,787.8 430.0,786.5 430.0,814.3 430.0,802.1 433.8,816.7 433.8,796.1 437.6,816.1 437.6,789.7 437.6,813.9 441.4,811.6 441.4,813.0 441.4,787.8 445.1,816.9 445.1,791.9 445.1,814.4 448.9,803.1 448.9,793.7 448.9,817.9 448.9,794.0 452.7,803.9 452.7,798.5 452.7,816.6 456.5,800.2 456.5,826.7 456.5,785.6 460.3,820.2 460.3,798.0 460.3,800.6 464.1,810.3 464.1,811.6 464.1,802.7 464.1,802.8 467.8,806.9 467.8,788.3 467.8,813.7 467.8,808.4 471.6,811.6 471.6,823.4 471.6,796.6 471.6,807.4 475.4,796.3 475.4,811.6 475.4,810.8 479.2,797.5 479.2,814.6 479.2,791.4 479.2,809.9 483.0,807.8 483.0,803.8 483.0,827.7 486.8,823.6 486.8,798.4 486.8,823.8 486.8,804.4 490.5,783.1 490.5,817.5 490.5,795.5 494.3,809.3 494.3,784.4 494.3,811.3 494.3,808.5 498.1,813.1 498.1,830.0 498.1,798.0 501.9,816.3 501.9,796.6 505.7,809.7 505.7,821.8 505.7,794.4 505.7,798.8 509.5,829.4 509.5,806.1 509.5,829.4 509.5,812.0 513.2,792.9 513.2,815.7 513.2,808.3 517.0,787.8 517.0,813.9 517.0,784.3 517.0,804.0 520.8,806.1 520.8,816.2 520.8,793.0 520.8,803.4 524.6,805.3 524.6,821.6 524.6,801.3 524.6,815.9 528.4,797.6 528.4,813.4 528.4,789.9 528.4,794.4 532.1,809.6 532.1,788.8 532.1,817.9 535.9,783.3 535.9,818.7 535.9,779.7 535.9,810.2 539.7,817.1 539.7,788.0 539.7,818.0 539.7,810.3 543.5,805.9 543.5,836.6 543.5,803.2 543.5,814.5 547.3,791.2 547.3,787.5 547.3,809.0 547.3,805.4 551.1,814.1 551.1,841.6 551.1,795.9 551.1,818.9 554.8,794.2 554.8,819.3 554.8,806.4 558.6,801.6 558.6,815.5 558.6,795.9 558.6,801.7 562.4,820.2 562.4,821.7 562.4,801.7 562.4,817.6 566.2,802.0 566.2,816.0 566.2,799.9 566.2,811.3 570.0,790.3 570.0,773.1 570.0,826.8 570.0,813.1 573.8,785.6 573.8,814.3 573.8,805.8 577.5,789.5 577.5,807.9 577.5,801.6 581.3,786.6 581.3,797.1 581.3,771.3 581.3,793.9 585.1,792.2 585.1,803.8 585.1,778.3 585.1,787.8 588.9,765.4 588.9,787.6 588.9,755.4 588.9,767.5 592.7,740.6 592.7,755.3 592.7,726.1 592.7,739.8 596.5,736.8 596.5,714.1 596.5,740.4 596.5,723.7 600.2,728.5 600.2,720.3 600.2,753.8 604.0,761.3 604.0,750.3 604.0,785.4 607.8,783.2 607.8,767.2 607.8,803.6 607.8,784.5 611.6,783.1 611.6,813.9 611.6,811.3 615.4,789.6 615.4,816.9 619.1,796.8 619.1,830.0 619.1,792.7 619.1,803.6 622.9,805.7 622.9,788.0 622.9,809.2 622.9,804.4 626.7,792.2 626.7,808.0 626.7,790.9 630.5,798.1 630.5,826.5 630.5,812.1 634.3,809.1 634.3,812.5 634.3,788.5 634.3,792.8 638.1,792.4 638.1,790.3 638.1,814.5 641.8,789.7 641.8,808.8 641.8,807.7 645.6,804.5 645.6,791.3 645.6,809.5 645.6,807.2 649.4,796.2 649.4,810.5 649.4,791.8 653.2,802.3 653.2,786.6 653.2,825.7 657.0,810.8 657.0,800.2 657.0,820.8 660.8,807.7 660.8,800.8 660.8,821.9 660.8,805.0 664.5,793.7 664.5,821.6 664.5,792.9 664.5,805.1 668.3,802.0 668.3,813.4 672.1,797.2 672.1,779.7 672.1,812.9 672.1,807.4 675.9,789.5 675.9,785.3 675.9,817.4 675.9,812.4 679.7,813.2 679.7,786.2 679.7,790.5 683.4,781.0 683.4,803.1 683.4,798.2 687.2,807.7 687.2,813.2 687.2,790.1 687.2,801.4 691.0,816.6 691.0,788.4 691.0,815.8 694.8,806.8 694.8,787.4 694.8,827.2 694.8,807.1 698.6,825.0 698.6,781.9 698.6,804.8 702.4,794.0 702.4,808.4 702.4,798.4 706.1,810.5 706.1,800.5 706.1,811.5 709.9,788.7 709.9,783.6 709.9,810.1 709.9,805.4 713.7,805.8 713.7,796.3 713.7,808.5 717.5,817.2 717.5,791.3 717.5,813.0 721.3,796.7 721.3,805.2 721.3,780.8 721.3,799.8 725.1,798.1 725.1,811.3 725.1,786.5 728.8,810.5 728.8,779.7 728.8,820.1 732.6,815.2 732.6,795.6 732.6,811.3 736.4,780.7 736.4,818.7 736.4,793.0 740.2,812.1 740.2,789.2 740.2,813.8 744.0,794.4 744.0,813.4 744.0,804.1 747.8,808.1 747.8,793.6 747.8,812.6 747.8,798.2 751.5,807.7 751.5,814.3 751.5,783.0 755.3,822.3 755.3,839.6 755.3,798.0 759.1,789.3 759.1,820.9 762.9,812.5 762.9,788.4 762.9,807.7 766.7,812.5 766.7,826.6 766.7,790.2 770.4,794.6 770.4,787.1 770.4,826.3 770.4,812.8 774.2,782.4 774.2,811.4 774.2,770.9 774.2,793.3 778.0,808.3 778.0,783.8 778.0,818.2 781.8,816.4 781.8,808.3 785.6,812.5 785.6,791.6 785.6,813.7 785.6,809.5 789.4,816.8 789.4,781.1 789.4,816.8 793.1,808.5 793.1,816.0 793.1,786.1 793.1,801.0 796.9,792.1 796.9,823.2 796.9,782.9 796.9,783.5 800.7,800.5 800.7,779.7 800.7,821.5 804.5,815.1 804.5,789.7 808.3,813.3 808.3,793.9 808.3,825.5 812.1,808.1 812.1,795.2 812.1,824.4 815.8,802.6 815.8,782.5 815.8,815.4 815.8,806.8 819.6,807.5 819.6,790.2 819.6,824.7 823.4,796.0 823.4,816.1 823.4,794.1 823.4,795.1 827.2,798.7 827.2,809.1 827.2,778.7 827.2,794.7 831.0,792.6 831.0,790.8 831.0,819.1 831.0,802.8 834.7,798.6 834.7,811.7 838.5,811.4 838.5,820.9 838.5,802.2 838.5,806.3 842.3,802.6 842.3,815.0 842.3,798.5 842.3,814.9 846.1,802.6 846.1,820.9 846.1,784.2 846.1,801.9 849.9,780.9 849.9,815.4 849.9,792.9 853.7,795.8 853.7,813.8 853.7,780.2 853.7,790.5 857.4,773.9 857.4,812.4 857.4,776.2 861.2,773.2 861.2,792.4 861.2,785.2 865.0,793.1 865.0,798.3 865.0,755.8 868.8,774.4 868.8,754.5 868.8,783.1 868.8,767.3 872.6,765.4 872.6,769.5 872.6,748.2 872.6,756.1 876.4,751.7 876.4,758.0 876.4,736.4 880.1,753.6 880.1,732.4 883.9,735.0 883.9,730.2 883.9,741.3 887.7,716.6 887.7,726.1 887.7,703.1 891.5,691.6 891.5,707.5 891.5,677.5 895.3,659.1 895.3,674.1 895.3,638.2 895.3,658.9 899.1,633.3 899.1,589.4 899.1,645.4 899.1,618.5 902.8,631.7 902.8,636.1 902.8,614.6 902.8,625.2 906.6,627.3 906.6,663.5 910.4,666.6 910.4,694.7 910.4,694.3 914.2,700.5 914.2,699.3 914.2,726.4 914.2,724.1 918.0,736.0 918.0,722.3 918.0,756.6 921.7,739.3 921.7,768.4 921.7,733.6 921.7,749.4 925.5,767.2 925.5,755.3 925.5,773.5 925.5,762.5 929.3,751.6 929.3,772.8 933.1,781.8 933.1,799.7 933.1,778.2 933.1,783.3 936.9,790.9 936.9,805.0 936.9,771.1 940.7,793.3 940.7,766.1 940.7,796.2 944.4,775.8 944.4,809.1 948.2,800.9 948.2,781.2 948.2,816.2 948.2,794.2 952.0,780.4 952.0,813.1 952.0,800.4 955.8,786.8 955.8,811.4 955.8,796.2 959.6,820.9 959.6,795.3 959.6,805.8 963.4,790.7 963.4,787.9 963.4,820.5 963.4,803.8 967.1,797.9 967.1,802.5 967.1,784.8 970.9,820.2 970.9,784.0 974.7,781.4 974.7,804.3 974.7,792.1 978.5,805.1 978.5,820.6 978.5,794.3 982.3,801.4 982.3,757.8 982.3,814.4 982.3,798.8 986.0,802.0 986.0,818.6 986.0,781.9 989.8,808.3 989.8,796.1 989.8,826.1 989.8,808.6 993.6,810.8 993.6,797.4 993.6,809.7 997.4,788.7 997.4,824.1 997.4,816.7 1001.2,791.2 1001.2,817.3 1001.2,787.8 1001.2,801.6 1005.0,801.0 1005.0,808.6 1005.0,791.7 1005.0,797.5 1008.7,813.0 1008.7,790.8 1008.7,797.2 1012.5,803.1 1012.5,791.7 1012.5,807.7 1012.5,802.5 1016.3,799.8 1016.3,836.6 1016.3,817.4 1020.1,814.2 1020.1,805.0 1020.1,828.7 1020.1,822.5 1023.9,814.0 1023.9,786.1 1023.9,791.3 1027.7,798.8 1027.7,821.3 1027.7,803.8 1031.4,805.6 1031.4,808.6 1031.4,794.8 1031.4,802.1 1035.2,813.2 1035.2,783.0 1035.2,803.6 1039.0,814.4 1039.0,829.1 1039.0,798.3 1039.0,811.9 1042.8,813.9 1042.8,790.0 1042.8,814.8 1042.8,805.2 1046.6,810.9 1046.6,802.5 1046.6,823.0 1046.6,819.0 1050.3,807.2 1050.3,780.9 1050.3,814.6 1050.3,797.8 1054.1,804.6 1054.1,812.5 1054.1,780.9 1057.9,796.6 1057.9,777.6 1057.9,802.2 1057.9,791.5 1061.7,783.3 1061.7,792.3 1061.7,765.5 1061.7,778.1 1065.5,780.0 1065.5,784.9 1065.5,765.9 1065.5,778.7 1069.3,786.3 1069.3,755.6 1069.3,794.0 1073.0,794.8 1073.0,784.6 1073.0,812.4 1076.8,805.1 1076.8,822.8 1080.6,796.9 1080.6,825.4 1080.6,796.9 1080.6,821.1 1084.4,809.7 1084.4,788.9 1084.4,807.8 1088.2,796.9 1088.2,827.7 1092.0,809.2 1092.0,789.3 1092.0,810.0 1092.0,808.7 1095.7,806.9 1095.7,796.3 1095.7,831.0 1095.7,820.1 1099.5,800.5 1099.5,824.7 1099.5,800.9 1103.3,806.5 1103.3,798.8 1103.3,819.5 1107.1,821.1 1107.1,839.6 1107.1,790.4 1107.1,806.1 1110.9,821.5 1110.9,824.4 1110.9,790.5 1110.9,808.1 1114.7,810.9 1114.7,830.2 1114.7,777.5 1114.7,813.1 1118.4,824.9 1118.4,790.5 1118.4,813.4 1122.2,817.2 1122.2,807.4 1122.2,822.9 1122.2,819.2 1126.0,814.2 1126.0,828.6 1126.0,799.1 1129.8,817.6 1129.8,810.0 1129.8,819.1 1133.6,816.1 1133.6,816.8 1133.6,796.6 1133.6,815.0 1137.3,812.2 1137.3,797.4 1137.3,825.1 1141.1,790.8 1141.1,822.8 1144.9,813.5 1144.9,794.1 1144.9,837.1 1144.9,800.3 1148.7,807.9 1148.7,833.4 1148.7,790.9 1148.7,817.7 1152.5,820.1 1152.5,809.1 1152.5,813.9 1156.3,802.7 1156.3,824.8 1156.3,806.5 1160.0,811.3 1160.0,829.2 1160.0,826.9 1163.8,820.6 1163.8,805.7 1163.8,829.9 1167.6,813.4 1167.6,790.9 1167.6,826.9 1171.4,824.1 1171.4,806.3 1171.4,820.4 1175.2,805.6 1175.2,796.3 1175.2,825.5 1175.2,818.0 1179.0,827.5 1179.0,800.9 1179.0,805.4 1182.7,808.1 1182.7,790.8 1182.7,828.4 1186.5,802.5 1186.5,825.2 1186.5,799.2 1186.5,803.5 1190.3,827.7 1190.3,804.6 1190.3,816.4 1194.1,832.5 1194.1,775.3 1194.1,808.7 1197.9,800.9 1197.9,821.7 1197.9,817.7 1201.7,817.7 1201.7,827.6 1201.7,799.1 1201.7,814.3 1205.4,813.5 1205.4,822.4 1205.4,807.2 1209.2,804.1 1209.2,795.9 1209.2,830.4 1213.0,816.2 1213.0,798.7 1213.0,832.6 1213.0,805.4 1216.8,818.6 1216.8,824.5 1216.8,807.5 1220.6,806.2 1220.6,820.5 1220.6,801.0 1220.6,809.9 1224.3,812.8 1224.3,818.4 1224.3,790.5 1224.3,816.4 1228.1,823.7 1228.1,805.1 1228.1,815.3 1231.9,821.8 1231.9,793.3 1231.9,810.2 1235.7,813.7 1235.7,806.0 1235.7,815.4 1235.7,811.2 1239.5,833.9 1239.5,809.5 1239.5,826.5 1243.3,822.5 1243.3,804.1 1243.3,830.1 1247.0,809.3 1247.0,803.2 1247.0,815.5 1250.8,830.0 1250.8,805.0 1250.8,827.6 1254.6,817.4 1254.6,791.5 1254.6,824.9 1258.4,792.5 1258.4,834.4 1258.4,813.5 1262.2,822.4 1262.2,805.5 1262.2,836.1 1262.2,816.9 1266.0,805.4 1266.0,798.3 1266.0,836.1 1266.0,814.7 1269.7,822.4 1269.7,798.4 1269.7,818.8 1273.5,794.8 1273.5,827.5 1273.5,805.9 1277.3,795.3 1277.3,833.3 1281.1,807.5 1281.1,830.6 1281.1,800.9 1281.1,808.2 1284.9,799.8 1284.9,798.3 1284.9,824.6 1284.9,814.8 1288.6,802.4 1288.6,819.9 1288.6,801.7 1288.6,818.1 1292.4,816.9 1292.4,817.6 1292.4,801.9 1292.4,813.6 1296.2,826.2 1296.2,795.5 1300.0,796.0 1300.0,826.2 1300.0,792.7 1300.0,819.8 1303.8,801.0 1303.8,816.9 1303.8,779.7 1303.8,808.9 1307.6,826.1 1307.6,801.0 1307.6,826.4 1307.6,812.5 1311.3,795.3 1311.3,793.8 1311.3,814.6 1311.3,812.6 1315.1,794.6 1315.1,816.6 1315.1,795.1 1318.9,805.2 1318.9,805.4 1318.9,771.4 1322.7,798.1 1322.7,804.9 1322.7,776.5 1326.5,781.0 1326.5,783.2 1326.5,759.7 1326.5,764.8 1330.3,748.4 1330.3,790.5 1334.0,770.5 1334.0,795.0 1334.0,763.3 1334.0,779.8 1337.8,788.1 1337.8,735.9 1337.8,789.3 1337.8,763.0 1341.6,795.4 1341.6,799.7 1341.6,781.6 1345.4,787.3 1345.4,817.8 1345.4,797.3 1349.2,819.5 1349.2,799.0 1349.2,813.9 1353.0,799.5 1353.0,822.3 1353.0,786.6 1353.0,812.1 1356.7,821.6 1356.7,809.7 1356.7,828.1 1356.7,817.5 1360.5,796.6 1360.5,789.7 1360.5,818.7 1364.3,808.5 1364.3,790.4 1364.3,828.0 1364.3,804.0 1368.1,813.1 1368.1,833.0 1368.1,796.0 1368.1,823.8 1371.9,836.1 1371.9,817.2 1371.9,823.9 1375.6,808.1 1375.6,804.1 1375.6,827.6 1375.6,819.5 1379.4,815.5 1379.4,808.7 1383.2,824.8 1383.2,804.3 1383.2,818.8 1387.0,814.5 1387.0,836.7 1387.0,802.7 1390.8,801.2 1390.8,841.6 1390.8,829.8 1394.6,814.5 1394.6,804.6 1394.6,826.8 1394.6,813.8 1398.3,824.6 1398.3,807.0 1398.3,812.4 1402.1,808.1 1402.1,824.1 1402.1,799.5 1405.9,813.1 1405.9,828.6 1405.9,799.2 1409.7,801.4 1409.7,832.5 1413.5,813.6 1413.5,802.5 1413.5,826.8 1413.5,812.6 1417.3,829.6 1417.3,812.0 1417.3,822.2 1421.0,832.7 1421.0,806.1 1421.0,817.1 1424.8,802.5 1424.8,838.2 1424.8,801.6 1424.8,818.2 1428.6,824.1 1428.6,814.9 1428.6,835.5 1428.6,829.7 1432.4,795.6 1432.4,841.9 1432.4,826.4 1436.2,820.8 1436.2,820.0 1436.2,834.0 1436.2,821.9 1439.9,821.2 1439.9,829.3 1439.9,811.4 1439.9,824.7 1443.7,818.8 1443.7,825.3 1443.7,804.0 1443.7,818.8 1447.5,819.1 1447.5,842.4 1447.5,815.5 1451.3,813.7 1451.3,840.9 1451.3,813.8 1455.1,811.6 1455.1,834.7 1455.1,818.0 1458.9,828.1 1458.9,838.6 1458.9,812.4 1458.9,819.4 1462.6,835.9 1462.6,804.0 1462.6,818.5 1466.4,823.4 1466.4,820.7 1466.4,828.3 1466.4,822.1 1470.2,821.3 1470.2,797.2 1470.2,840.4 1474.0,803.2 1474.0,828.5 1474.0,827.9 1477.8,818.3 1477.8,828.8 1477.8,806.5 1481.6,823.1 1481.6,812.5 1481.6,830.1 1481.6,813.9 1485.3,822.1 1485.3,833.2 1485.3,798.9 1485.3,814.0 1489.1,808.4 1489.1,821.9 1489.1,802.6 1492.9,833.0 1492.9,804.3 1492.9,819.0 1496.7,819.9 1496.7,830.2 1496.7,811.6 1496.7,828.4 1500.5,809.4 1500.5,817.7 1500.5,807.0 1500.5,816.3 1504.2,827.8 1504.2,812.8 1504.2,823.3 1508.0,801.2 1508.0,828.3 1508.0,826.2 1511.8,831.6 1511.8,811.4 1515.6,838.5 1515.6,803.5 1519.4,807.2 1519.4,835.2 1519.4,808.8 1523.2,829.0 1523.2,810.9 1523.2,836.8 1526.9,828.6 1526.9,839.6 1526.9,814.0 1530.7,821.5 1530.7,830.4 1530.7,803.5 1530.7,826.5 1534.5,818.2 1534.5,827.4 1534.5,806.4 1534.5,826.2 1538.3,808.7 1538.3,842.4 1542.1,816.7 1542.1,836.0 1545.9,809.5 1545.9,818.2 1545.9,801.2 1549.6,807.7 1549.6,788.4 1549.6,824.1 1549.6,818.0 1553.4,806.3 1553.4,826.3 1553.4,811.5 1557.2,816.7 1557.2,805.8 1557.2,820.7 1557.2,808.8 1561.0,823.2 1561.0,800.2 1561.0,842.8 1561.0,816.7 1564.8,823.4 1564.8,839.5 1564.8,821.5 1564.8,830.1 1568.6,833.4 1568.6,835.8 1568.6,813.6 1568.6,827.0 1572.3,821.2 1572.3,824.9 1572.3,798.8 1572.3,819.0 1576.1,815.7 1576.1,804.5 1576.1,828.6 1579.9,815.1 1579.9,833.1 1579.9,808.2 1583.7,811.3 1583.7,834.4 1583.7,820.8 1587.5,807.7 1587.5,831.1 1587.5,798.7 1587.5,816.6 1591.2,834.1 1591.2,836.2 1591.2,800.5 1595.0,824.0 1595.0,798.5 1595.0,830.9 1598.8,815.4 1598.8,839.8 1598.8,838.9 1602.6,827.8 1602.6,804.9 1606.4,819.0 1606.4,808.2 1606.4,827.0 1610.2,817.9 1610.2,836.7 1610.2,820.9 1613.9,817.8 1613.9,808.6 1613.9,844.0 1617.7,808.1 1617.7,797.8 1617.7,830.7 1617.7,820.0 1621.5,824.2 1621.5,816.3 1621.5,837.1 1621.5,824.0 1625.3,816.1 1625.3,799.7 1625.3,827.4 1629.1,827.9 1629.1,804.2 1629.1,833.8 1629.1,830.1 1632.9,832.7 1632.9,798.4 1636.6,827.8 1636.6,809.0 1636.6,840.0 1640.4,807.0 1640.4,843.1 1640.4,832.6 1644.2,824.4 1644.2,827.2 1644.2,806.4 1648.0,824.0 1648.0,796.6 1648.0,832.7 1648.0,830.1 1651.8,828.8 1651.8,830.4 1651.8,805.5 1651.8,825.8 1655.6,820.0 1655.6,802.4 1655.6,842.0 1655.6,816.4 1659.3,807.7 1659.3,795.3 1659.3,813.0 1659.3,803.5 1663.1,802.8 1663.1,815.2 1666.9,826.7 1666.9,806.7 1666.9,826.3 1670.7,815.0 1670.7,828.1 1670.7,794.9 1674.5,810.2 1674.5,793.8 1674.5,798.8 1678.2,807.1 1678.2,807.8 1678.2,790.2 1678.2,792.4 1682.0,788.4 1682.0,815.9 1685.8,787.9 1685.8,769.3 1685.8,791.4 1689.6,792.3 1689.6,802.3 1689.6,781.0 1689.6,795.3 1693.4,783.1 1693.4,807.6 1693.4,788.4 1697.2,802.8 1697.2,824.1 1697.2,782.4 1697.2,808.9 1700.9,812.6 1700.9,807.5 1700.9,829.0 1704.7,812.2 1704.7,795.8 1704.7,822.3 1708.5,821.1 1708.5,813.2 1708.5,827.9 1712.3,824.5 1712.3,825.5 1712.3,803.4 1712.3,821.1 1716.1,812.4 1716.1,811.5 1716.1,827.0 1716.1,816.7 1719.9,815.8 1719.9,830.7 1719.9,809.6 1723.6,809.7 1723.6,804.6 1723.6,835.4 1727.4,822.0 1727.4,835.5 1727.4,801.1 1727.4,832.6 1731.2,819.5 1731.2,817.8 1731.2,834.6 1735.0,801.8 1735.0,823.6 1735.0,821.4 1738.8,813.3 1738.8,822.8 1738.8,801.7 1742.5,809.1 1742.5,836.5 1742.5,807.8 1746.3,807.8 1746.3,804.3 1746.3,832.0 1750.1,833.0 1750.1,835.7 1750.1,805.6 1753.9,828.5 1753.9,828.9 1753.9,820.1 1753.9,828.7 1757.7,819.4 1757.7,841.5 1757.7,810.1 1757.7,824.5 1761.5,830.3 1761.5,841.0 1761.5,819.8 1761.5,821.4 1765.2,817.6 1765.2,833.8 1765.2,812.0 1765.2,818.3 1769.0,818.3 1769.0,813.1 1769.0,830.0 1769.0,826.6 1772.8,837.2 1772.8,815.8 1772.8,825.8 1776.6,808.1 1776.6,834.3 1776.6,807.5 1776.6,818.2 1780.4,812.5 1780.4,828.1 1780.4,826.1 1784.2,837.6 1784.2,790.6 1784.2,835.6 1787.9,833.6 1787.9,838.3 1787.9,817.1 1787.9,829.7 1791.7,841.3 1791.7,845.9 1791.7,821.2 1795.5,811.7 1795.5,823.4 1795.5,812.0 1799.3,833.3 1799.3,795.0 1799.3,847.1 1799.3,831.0 1803.1,830.4 1803.1,833.5 1803.1,801.0 1806.9,828.2 1806.9,833.2 1806.9,807.8 1810.6,816.8 1810.6,809.0 1810.6,838.2 1810.6,826.0 1814.4,833.0 1814.4,835.4 1814.4,819.8 1818.2,801.2 1818.2,831.5 1818.2,818.5 1822.0,802.0 1822.0,831.5 1822.0,814.6 1825.8,827.9 1825.8,841.0 1825.8,809.7 1825.8,810.9 1829.5,803.8 1829.5,843.2 1833.3,817.8 1833.3,801.5 1833.3,829.7 1833.3,827.0 1837.1,820.4 1837.1,819.6 1837.1,836.1 1840.9,817.3 1840.9,838.7 1840.9,816.8 1840.9,817.3 1844.7,822.4 1844.7,817.8 1844.7,841.7 1844.7,826.8 1848.5,828.6 1848.5,806.3 1848.5,817.1 1852.2,833.9 1852.2,803.1 1852.2,812.4 1856.0,805.3 1856.0,845.3 1859.8,822.5 1859.8,820.5 1859.8,835.7 1859.8,820.8 1863.6,826.3 1863.6,818.9 1863.6,840.1 1863.6,821.3 1867.4,822.0 1867.4,820.1 1867.4,833.6 1867.4,822.4 1871.2,825.5 1871.2,839.4 1871.2,817.8 1874.9,839.6 1874.9,814.3 1874.9,835.3 1878.7,814.4 1878.7,839.8 1878.7,818.5 1882.5,821.3 1882.5,840.9 1882.5,811.1 1882.5,839.5"/>
<polyline fill="none" stroke="#37AD6B" stroke-width="2.5" stroke-linejoin="round" shape-rendering="crispEdges" points="369.5,469.9 369.5,486.1 369.5,480.4 373.3,491.9 373.3,499.6 373.3,477.4 373.3,484.8 377.1,496.3 377.1,478.8 377.1,496.7 377.1,484.2 380.8,483.0 380.8,477.4 380.8,498.2 380.8,480.0 384.6,507.7 384.6,469.9 384.6,488.1 388.4,490.9 388.4,494.8 388.4,461.6 392.2,476.2 392.2,450.5 392.2,497.6 396.0,481.2 396.0,466.6 396.0,501.2 399.8,483.5 399.8,477.8 399.8,499.1 399.8,488.9 403.5,495.7 403.5,513.3 403.5,478.8 403.5,494.6 407.3,463.1 407.3,513.7 407.3,486.5 411.1,502.9 411.1,471.6 411.1,505.8 411.1,490.8 414.9,493.6 414.9,430.4 414.9,474.7 418.7,470.5 418.7,500.7 418.7,499.9 422.5,493.6 422.5,479.9 422.5,504.1 422.5,495.4 426.2,480.8 426.2,500.6 426.2,460.8 430.0,490.6 430.0,483.3 430.0,499.7 430.0,487.8 433.8,471.6 433.8,511.2 437.6,512.2 437.6,462.4 437.6,491.9 441.4,507.1 441.4,467.5 441.4,471.9 445.1,469.6 445.1,504.8 445.1,485.7 448.9,477.5 448.9,471.2 448.9,491.1 448.9,487.3 452.7,498.3 452.7,460.7 452.7,497.8 456.5,470.9 456.5,463.7 456.5,488.1 456.5,467.3 460.3,497.0 460.3,468.7 460.3,500.1 464.1,503.9 464.1,446.3 464.1,466.5 467.8,490.4 467.8,497.5 467.8,479.2 467.8,482.6 471.6,482.1 471.6,495.6 471.6,476.2 471.6,490.2 475.4,483.7 475.4,480.6 475.4,503.1 479.2,479.6 479.2,497.8 479.2,460.6 479.2,477.1 483.0,469.7 483.0,469.1 483.0,486.1 486.8,505.4 486.8,513.5 486.8,449.4 486.8,485.0 490.5,487.7 490.5,513.5 494.3,474.8 494.3,467.3 494.3,502.0 494.3,483.0 498.1,503.9 498.1,467.3 501.9,487.1 501.9,487.7 501.9,471.7 505.7,512.6 505.7,467.1 505.7,475.6 509.5,493.4 509.5,503.3 509.5,475.6 509.5,477.7 513.2,484.4 513.2,478.5 513.2,505.9 513.2,487.8 517.0,490.9 517.0,513.4 517.0,470.6 520.8,485.3 520.8,468.7 520.8,506.6 524.6,472.3 524.6,462.0 524.6,508.9 528.4,494.8 528.4,479.3 528.4,499.6 532.1,477.8 532.1,474.4 532.1,500.4 532.1,483.0 535.9,480.7 535.9,501.8 535.9,470.6 535.9,488.1 539.7,493.1 539.7,472.5 539.7,505.8 539.7,485.6 543.5,480.8 543.5,462.8 543.5,503.8 547.3,504.2 547.3,464.9 551.1,513.2 551.1,460.2 551.1,500.5 554.8,477.1 554.8,477.0 554.8,502.6 554.8,489.5 558.6,481.4 558.6,506.4 558.6,468.1 558.6,476.1 562.4,466.4 562.4,521.6 562.4,483.9 566.2,499.2 566.2,468.2 566.2,509.0 570.0,464.7 570.0,512.8 570.0,492.3 573.8,498.5 573.8,509.2 573.8,472.0 577.5,480.6 577.5,488.4 577.5,476.2 577.5,485.4 581.3,490.8 581.3,454.7 581.3,477.6 585.1,477.2 585.1,459.9 585.1,479.2 585.1,467.5 588.9,492.4 588.9,493.0 588.9,451.3 588.9,466.6 592.7,471.2 592.7,471.4 592.7,434.6 592.7,467.2 596.5,433.1 596.5,430.0 596.5,458.8 600.2,451.8 600.2,418.6 604.0,459.5 604.0,439.1 604.0,461.7 604.0,450.2 607.8,428.1 607.8,465.5 607.8,451.8 611.6,468.5 611.6,448.0 611.6,450.5 615.4,457.8 615.4,495.1 619.1,484.7 619.1,471.2 619.1,488.7 622.9,462.0 622.9,487.2 622.9,480.1 626.7,466.3 626.7,494.4 626.7,461.9 630.5,474.0 630.5,469.2 630.5,512.2 630.5,478.5 634.3,484.8 634.3,493.2 634.3,476.4 634.3,492.5 638.1,487.7 638.1,475.4 638.1,487.8 641.8,474.6 641.8,490.7 641.8,482.0 645.6,465.6 645.6,485.7 645.6,477.1 649.4,468.0 649.4,495.8 649.4,469.2 653.2,477.5 653.2,504.0 657.0,482.6 657.0,495.1 657.0,490.2 660.8,492.2 660.8,497.8 660.8,472.2 660.8,482.1 664.5,508.2 664.5,466.3 664.5,474.6 668.3,507.9 668.3,439.6 668.3,494.3 672.1,488.2 672.1,482.8 672.1,508.2 672.1,489.7 675.9,498.6 675.9,503.8 675.9,475.9 679.7,474.4 679.7,493.3 679.7,493.0 683.4,483.7 683.4,478.9 683.4,501.2 687.2,480.5 687.2,496.8 687.2,478.6 687.2,486.5 691.0,469.5 691.0,450.5 691.0,499.2 691.0,478.6 694.8,506.5 694.8,468.9 694.8,498.6 698.6,487.6 698.6,473.6 698.6,494.0 698.6,493.4 702.4,499.0 702.4,476.8 702.4,500.5 706.1,481.3 706.1,470.2 706.1,496.6 706.1,490.9 709.9,465.8 709.9,501.5 709.9,452.7 709.9,486.4 713.7,501.1 713.7,461.2 713.7,486.1 717.5,480.0 717.5,469.6 717.5,502.5 717.5,472.2 721.3,492.1 721.3,498.3 721.3,479.7 725.1,484.9 725.1,513.8 725.1,466.5 728.8,495.6 728.8,508.1 728.8,473.5 732.6,478.4 732.6,462.0 732.6,495.1 732.6,479.8 736.4,492.9 736.4,479.1 736.4,497.5 736.4,488.5 740.2,460.8 740.2,499.0 740.2,481.4 744.0,505.8 744.0,476.2 747.8,481.6 747.8,476.6 747.8,511.7 747.8,492.8 751.5,462.8 751.5,507.1 751.5,487.2 755.3,474.4 755.3,498.6 755.3,478.3 759.1,469.8 759.1,500.3 759.1,483.8 762.9,499.8 762.9,470.3 762.9,487.2 766.7,498.2 766.7,482.2 770.4,501.0 770.4,474.1 770.4,504.5 770.4,481.4 774.2,476.7 774.2,489.9 774.2,489.5 778.0,502.7 778.0,469.1 778.0,488.1 781.8,477.3 781.8,504.3 781.8,462.6 785.6,467.8 785.6,463.4 785.6,512.1 785.6,483.0 789.4,487.1 789.4,502.6 789.4,463.0 793.1,484.7 793.1,467.5 793.1,493.9 793.1,490.6 796.9,472.8 796.9,486.0 796.9,482.2 800.7,511.0 800.7,471.2 800.7,478.9 804.5,488.0 804.5,463.5 804.5,499.2 804.5,477.8 808.3,485.1 808.3,506.5 808.3,473.0 808.3,487.2 812.1,465.9 812.1,465.5 812.1,500.8 812.1,480.3 815.8,490.7 815.8,464.9 815.8,496.9 819.6,491.6 819.6,492.0 819.6,465.6 819.6,474.8 823.4,474.7 823.4,459.4 823.4,477.1 823.4,461.3 827.2,500.2 827.2,462.4 827.2,477.3 831.0,480.5 831.0,505.1 831.0,499.6 834.7,470.7 834.7,462.0 834.7,489.2 834.7,478.1 838.5,462.1 838.5,500.6 838.5,458.6 838.5,477.6 842.3,490.5 842.3,463.9 842.3,464.1 846.1,464.6 846.1,477.9 846.1,452.9 846.1,476.2 849.9,453.4 849.9,483.6 849.9,474.8 853.7,460.9 853.7,454.6 853.7,471.9 853.7,456.4 857.4,473.7 857.4,435.2 857.4,457.4 861.2,443.2 861.2,476.9 861.2,474.6 865.0,464.7 865.0,427.9 865.0,460.1 868.8,447.4 868.8,449.7 868.8,423.1 868.8,429.8 872.6,450.1 872.6,454.0 872.6,431.4 872.6,439.5 876.4,439.2 876.4,404.6 876.4,418.6 880.1,434.8 880.1,388.9 880.1,398.5 883.9,376.0 883.9,409.7 883.9,400.7 887.7,368.0 887.7,385.1 887.7,339.0 887.7,360.3 891.5,364.5 891.5,331.9 895.3,332.0 895.3,297.9 895.3,323.8 899.1,282.7 899.1,287.3 899.1,257.3 902.8,251.0 902.8,276.2 902.8,222.9 902.8,242.0 906.6,224.5 906.6,196.1 910.4,198.5 910.4,170.5 910.4,217.6 914.2,215.7 914.2,201.3 914.2,258.5 914.2,228.7 918.0,253.8 918.0,250.1 918.0,312.2 921.7,312.0 921.7,294.8 921.7,358.3 925.5,339.2 925.5,405.7 925.5,395.5 929.3,389.8 929.3,422.1 933.1,442.0 933.1,462.3 933.1,433.6 936.9,467.4 936.9,482.0 936.9,442.6 936.9,456.6 940.7,480.0 940.7,447.8 940.7,486.1 940.7,458.7 944.4,486.1 944.4,467.1 948.2,465.0 948.2,480.9 948.2,479.9 952.0,472.5 952.0,469.8 952.0,487.5 952.0,487.4 955.8,502.3 955.8,473.8 959.6,467.4 959.6,498.7 959.6,463.2 963.4,467.3 963.4,487.8 963.4,478.2 967.1,478.7 967.1,491.5 967.1,471.3 967.1,482.6 970.9,480.7 970.9,470.5 970.9,490.7 974.7,492.8 974.7,476.4 974.7,507.2 978.5,491.1 978.5,497.6 978.5,467.0 982.3,499.7 982.3,476.4 986.0,485.8 986.0,479.2 986.0,492.3 986.0,487.4 989.8,485.8 989.8,506.2 989.8,478.2 989.8,484.8 993.6,502.1 993.6,502.2 993.6,473.7 993.6,502.0 997.4,468.5 997.4,502.1 997.4,492.6 1001.2,471.9 1001.2,464.8 1001.2,516.4 1001.2,503.0 1005.0,489.1 1005.0,507.6 1005.0,480.9 1005.0,490.1 1008.7,495.9 1008.7,501.2 1008.7,476.5 1012.5,512.2 1012.5,485.1 1012.5,488.5 1016.3,482.3 1016.3,495.6 1016.3,467.3 1020.1,481.2 1020.1,471.4 1020.1,494.3 1020.1,477.5 1023.9,486.7 1023.9,471.0 1023.9,501.3 1023.9,496.8 1027.7,481.0 1027.7,475.4 1027.7,502.6 1031.4,493.2 1031.4,487.9 1031.4,504.8 1035.2,495.2 1035.2,509.6 1035.2,482.6 1035.2,486.0 1039.0,481.3 1039.0,498.8 1042.8,495.7 1042.8,499.8 1042.8,478.0 1046.6,485.2 1046.6,540.0 1046.6,464.2 1046.6,484.9 1050.3,492.3 1050.3,470.1 1050.3,503.9 1050.3,481.3 1054.1,487.1 1054.1,455.8 1054.1,478.8 1057.9,497.7 1057.9,463.6 1057.9,488.2 1061.7,478.0 1061.7,455.5 1061.7,489.9 1061.7,480.8 1065.5,468.0 1065.5,497.9 1069.3,464.2 1069.3,463.6 1069.3,490.1 1073.0,482.9 1073.0,511.4 1073.0,483.7 1076.8,487.6 1076.8,481.2 1076.8,501.0 1080.6,502.1 1080.6,508.5 1080.6,495.8 1080.6,505.2 1084.4,503.4 1084.4,478.8 1084.4,503.4 1084.4,482.1 1088.2,495.2 1088.2,511.2 1092.0,494.1 1092.0,513.6 1092.0,476.5 1092.0,498.1 1095.7,495.8 1095.7,482.5 1095.7,522.4 1095.7,493.9 1099.5,507.6 1099.5,483.5 1099.5,497.6 1103.3,503.9 1103.3,515.1 1103.3,493.0 1107.1,503.4 1107.1,514.5 1107.1,498.4 1110.9,488.2 1110.9,471.6 1110.9,518.3 1110.9,508.1 1114.7,498.8 1114.7,518.6 1114.7,489.5 1114.7,497.3 1118.4,496.1 1118.4,507.2 1118.4,490.4 1118.4,495.7 1122.2,513.7 1122.2,499.6 1122.2,500.0 1126.0,517.4 1126.0,497.4 1126.0,499.6 1129.8,499.0 1129.8,511.0 1129.8,490.9 1133.6,496.2 1133.6,489.6 1133.6,523.5 1137.3,502.4 1137.3,511.8 1137.3,498.0 1141.1,509.8 1141.1,497.5 1141.1,500.6 1144.9,505.7 1144.9,520.8 1144.9,478.4 1144.9,512.0 1148.7,500.9 1148.7,518.7 1148.7,485.3 1148.7,497.3 1152.5,525.1 1152.5,484.1 1152.5,506.2 1156.3,496.5 1156.3,490.6 1156.3,510.5 1156.3,495.9 1160.0,505.5 1160.0,510.4 1160.0,487.8 1160.0,496.0 1163.8,512.3 1163.8,489.9 1163.8,512.3 1163.8,500.9 1167.6,499.2 1167.6,470.5 1167.6,502.8 1167.6,502.4 1171.4,499.3 1171.4,476.1 1171.4,534.6 1175.2,497.3 1175.2,482.8 1175.2,517.9 1179.0,505.5 1179.0,486.2 1179.0,530.3 1179.0,504.9 1182.7,508.0 1182.7,480.6 1182.7,508.6 1182.7,504.4 1186.5,494.3 1186.5,488.9 1186.5,524.6 1186.5,504.3 1190.3,523.8 1190.3,491.5 1190.3,491.9 1194.1,534.9 1194.1,482.0 1194.1,500.2 1197.9,506.1 1197.9,514.5 1197.9,489.7 1197.9,508.8 1201.7,473.1 1201.7,502.9 1201.7,455.1 1201.7,477.2 1205.4,512.7 1205.4,490.2 1205.4,517.7 1209.2,469.0 1209.2,497.4 1209.2,489.1 1213.0,495.8 1213.0,479.4 1213.0,510.4 1213.0,490.4 1216.8,498.9 1216.8,531.9 1216.8,487.8 1220.6,498.2 1220.6,481.9 1220.6,505.0 1224.3,469.2 1224.3,520.9 1224.3,517.2 1228.1,502.6 1228.1,528.7 1228.1,492.3 1228.1,515.5 1231.9,525.5 1231.9,501.9 1235.7,498.8 1235.7,528.2 1235.7,505.1 1239.5,498.1 1239.5,517.2 1239.5,488.0 1239.5,514.6 1243.3,509.1 1243.3,511.5 1243.3,481.5 1243.3,505.0 1247.0,503.1 1247.0,541.3 1247.0,484.4 1247.0,523.9 1250.8,513.1 1250.8,518.8 1250.8,490.4 1254.6,489.6 1254.6,516.6 1254.6,474.9 1254.6,515.9 1258.4,514.9 1258.4,479.5 1258.4,504.9 1262.2,508.4 1262.2,498.3 1262.2,527.1 1262.2,506.6 1266.0,509.3 1266.0,514.7 1266.0,494.9 1269.7,514.0 1269.7,489.1 1269.7,498.7 1273.5,504.5 1273.5,459.7 1273.5,507.5 1277.3,500.4 1277.3,529.5 1277.3,494.4 1277.3,508.8 1281.1,504.0 1281.1,527.0 1281.1,485.8 1284.9,499.0 1284.9,507.2 1284.9,503.9 1288.6,501.3 1288.6,513.0 1288.6,481.8 1288.6,508.8 1292.4,498.6 1292.4,521.4 1292.4,515.3 1296.2,528.8 1296.2,482.0 1296.2,524.6 1300.0,522.8 1300.0,492.9 1300.0,517.2 1303.8,482.2 1303.8,521.5 1303.8,494.1 1307.6,512.1 1307.6,483.5 1307.6,487.4 1311.3,505.0 1311.3,507.7 1311.3,479.1 1315.1,514.9 1315.1,483.4 1315.1,527.0 1318.9,504.2 1318.9,524.5 1318.9,491.5 1318.9,500.2 1322.7,501.6 1322.7,494.1 1322.7,515.7 1326.5,503.2 1326.5,524.6 1326.5,452.7 1326.5,497.5 1330.3,511.8 1330.3,530.2 1330.3,478.8 1334.0,505.3 1334.0,496.2 1334.0,514.5 1334.0,503.4 1337.8,489.3 1337.8,504.5 1337.8,502.0 1341.6,514.1 1341.6,517.6 1341.6,477.6 1345.4,484.5 1345.4,524.0 1345.4,501.5 1349.2,493.3 1349.2,493.1 1349.2,522.5 1353.0,489.3 1353.0,543.5 1353.0,502.1 1356.7,509.0 1356.7,503.6 1356.7,528.9 1360.5,523.1 1360.5,489.7 1360.5,502.2 1364.3,505.5 1364.3,499.8 1364.3,529.3 1364.3,507.2 1368.1,506.8 1368.1,508.1 1368.1,479.4 1368.1,498.8 1371.9,512.1 1371.9,515.6 1371.9,502.7 1375.6,510.8 1375.6,508.1 1375.6,523.1 1379.4,526.4 1379.4,489.1 1379.4,533.4 1383.2,514.3 1383.2,486.3 1383.2,516.5 1387.0,482.8 1387.0,521.2 1390.8,502.7 1390.8,488.9 1390.8,515.4 1390.8,501.2 1394.6,518.0 1394.6,528.2 1394.6,497.5 1398.3,509.9 1398.3,534.8 1398.3,504.2 1402.1,507.2 1402.1,494.0 1402.1,515.6 1402.1,496.6 1405.9,507.7 1405.9,524.4 1405.9,504.4 1405.9,519.9 1409.7,520.3 1409.7,506.2 1413.5,508.0 1413.5,535.8 1413.5,502.5 1413.5,509.3 1417.3,517.0 1417.3,533.1 1417.3,504.8 1417.3,510.0 1421.0,483.5 1421.0,519.5 1421.0,508.3 1424.8,514.9 1424.8,483.9 1428.6,521.4 1428.6,523.3 1428.6,503.8 1428.6,513.5 1432.4,523.6 1432.4,496.8 1432.4,531.3 1432.4,513.5 1436.2,512.5 1436.2,515.7 1436.2,503.8 1439.9,515.5 1439.9,494.0 1439.9,501.1 1443.7,509.6 1443.7,490.8 1443.7,517.8 1447.5,495.0 1447.5,544.8 1447.5,485.2 1451.3,485.3 1451.3,524.2 1455.1,504.6 1455.1,526.8 1455.1,491.5 1455.1,516.4 1458.9,509.0 1458.9,491.3 1458.9,526.2 1462.6,508.8 1462.6,522.3 1462.6,501.9 1466.4,513.5 1466.4,547.2 1466.4,503.9 1470.2,539.3 1470.2,503.6 1470.2,509.5 1474.0,527.9 1474.0,501.4 1474.0,523.2 1477.8,531.1 1477.8,490.9 1481.6,497.4 1481.6,519.9 1481.6,507.2 1485.3,531.4 1485.3,497.1 1485.3,517.9 1489.1,516.1 1489.1,497.8 1489.1,524.5 1489.1,520.4 1492.9,525.8 1492.9,501.7 1492.9,507.2 1496.7,516.5 1496.7,536.1 1496.7,512.1 1496.7,520.0 1500.5,517.3 1500.5,524.2 1500.5,494.3 1504.2,507.3 1504.2,480.0 1504.2,521.7 1508.0,533.6 1508.0,491.0 1511.8,529.3 1511.8,491.6 1511.8,501.3 1515.6,510.4 1515.6,504.1 1515.6,529.3 1515.6,515.1 1519.4,511.6 1519.4,515.6 1519.4,501.4 1519.4,502.8 1523.2,496.6 1523.2,526.3 1523.2,520.8 1526.9,533.5 1526.9,498.8 1526.9,538.3 1526.9,512.5 1530.7,520.3 1530.7,539.1 1530.7,513.4 1530.7,523.3 1534.5,502.6 1534.5,519.0 1534.5,490.1 1534.5,500.5 1538.3,530.9 1538.3,490.3 1538.3,528.6 1542.1,502.5 1542.1,502.3 1542.1,526.1 1545.9,504.7 1545.9,520.1 1545.9,495.8 1549.6,521.0 1549.6,505.5 1549.6,526.4 1549.6,518.0 1553.4,518.3 1553.4,525.7 1553.4,508.9 1553.4,512.7 1557.2,507.6 1557.2,525.8 1557.2,497.5 1561.0,506.4 1561.0,483.5 1561.0,515.4 1564.8,491.0 1564.8,515.4 1564.8,513.7 1568.6,524.2 1568.6,501.0 1568.6,525.2 1568.6,512.0 1572.3,521.7 1572.3,500.9 1572.3,544.1 1572.3,504.3 1576.1,523.1 1576.1,503.5 1579.9,509.4 1579.9,528.8 1579.9,506.2 1579.9,510.4 1583.7,528.8 1583.7,542.7 1583.7,509.5 1583.7,526.4 1587.5,504.1 1587.5,521.9 1587.5,508.0 1591.2,510.4 1591.2,532.6 1591.2,527.9 1595.0,527.5 1595.0,505.3 1595.0,540.2 1598.8,506.0 1598.8,542.8 1598.8,540.8 1602.6,494.8 1602.6,534.4 1602.6,531.1 1606.4,506.5 1606.4,543.0 1606.4,509.2 1610.2,530.0 1610.2,506.1 1613.9,515.8 1613.9,507.1 1613.9,527.3 1617.7,514.7 1617.7,537.4 1617.7,508.7 1617.7,517.6 1621.5,520.0 1621.5,514.1 1621.5,526.4 1625.3,512.7 1625.3,541.9 1625.3,506.2 1625.3,508.2 1629.1,509.3 1629.1,504.5 1629.1,527.3 1632.9,498.3 1632.9,529.6 1632.9,520.6 1636.6,497.0 1636.6,532.2 1636.6,528.9 1640.4,523.8 1640.4,533.5 1640.4,507.8 1644.2,526.8 1644.2,495.7 1648.0,508.4 1648.0,489.5 1648.0,519.0 1648.0,510.2 1651.8,527.2 1651.8,493.8 1651.8,520.1 1655.6,524.8 1655.6,547.8 1655.6,502.5 1655.6,520.9 1659.3,498.9 1659.3,529.1 1659.3,506.4 1663.1,489.7 1663.1,521.8 1663.1,513.8 1666.9,522.7 1666.9,506.7 1666.9,517.4 1670.7,515.6 1670.7,479.1 1670.7,518.1 1674.5,486.4 1674.5,525.9 1674.5,491.7 1678.2,533.3 1678.2,480.0 1678.2,493.1 1682.0,502.5 1682.0,497.6 1682.0,519.2 1682.0,506.1 1685.8,485.2 1685.8,524.7 1689.6,505.5 1689.6,515.3 1689.6,493.1 1689.6,493.7 1693.4,513.1 1693.4,534.7 1693.4,509.7 1693.4,519.7 1697.2,518.2 1697.2,536.3 1697.2,474.8 1697.2,513.2 1700.9,514.0 1700.9,490.7 1700.9,538.0 1700.9,527.7 1704.7,513.3 1704.7,494.5 1704.7,526.2 1704.7,517.4 1708.5,506.1 1708.5,521.4 1708.5,510.6 1712.3,504.6 1712.3,499.9 1712.3,531.9 1712.3,504.1 1716.1,506.1 1716.1,528.6 1716.1,489.8 1716.1,526.6 1719.9,524.1 1719.9,498.5 1719.9,510.7 1723.6,492.8 1723.6,526.2 1723.6,506.3 1727.4,511.7 1727.4,531.0 1727.4,523.8 1731.2,517.2 1731.2,527.8 1731.2,496.2 1731.2,521.2 1735.0,514.5 1735.0,492.4 1735.0,527.9 1735.0,523.3 1738.8,523.1 1738.8,497.2 1738.8,533.6 1742.5,526.1 1742.5,514.9 1742.5,546.0 1746.3,510.0 1746.3,507.6 1746.3,546.3 1750.1,538.3 1750.1,498.2 1750.1,517.7 1753.9,527.9 1753.9,514.4 1753.9,546.6 1757.7,532.1 1757.7,546.7 1757.7,507.2 1757.7,508.9 1761.5,517.3 1761.5,512.3 1761.5,545.5 1761.5,536.2 1765.2,521.6 1765.2,498.1 1765.2,534.6 1765.2,514.1 1769.0,537.2 1769.0,514.4 1769.0,521.3 1772.8,524.2 1772.8,533.2 1772.8,497.4 1772.8,511.6 1776.6,534.8 1776.6,500.7 1776.6,538.8 1776.6,518.7 1780.4,509.5 1780.4,503.4 1780.4,535.8 1780.4,521.6 1784.2,534.3 1784.2,519.4 1784.2,525.5 1787.9,525.5 1787.9,536.4 1787.9,501.7 1791.7,526.3 1791.7,540.1 1791.7,518.1 1795.5,500.9 1795.5,538.1 1795.5,516.5 1799.3,503.3 1799.3,530.0 1799.3,524.2 1803.1,526.8 1803.1,512.5 1803.1,523.4 1806.9,517.5 1806.9,527.1 1806.9,521.2 1810.6,539.1 1810.6,509.4 1810.6,536.9 1814.4,521.1 1814.4,504.9 1814.4,545.1 1814.4,520.9 1818.2,509.7 1818.2,525.0 1818.2,518.8 1822.0,522.6 1822.0,509.4 1822.0,531.3 1825.8,536.2 1825.8,545.8 1825.8,509.9 1825.8,518.0 1829.5,506.5 1829.5,496.5 1829.5,537.0 1833.3,504.9 1833.3,536.0 1833.3,507.7 1837.1,534.5 1837.1,541.3 1837.1,506.1 1837.1,519.5 1840.9,546.8 1840.9,509.2 1840.9,535.2 1844.7,526.6 1844.7,508.7 1844.7,534.4 1848.5,517.9 1848.5,513.0 1848.5,540.9 1848.5,520.7 1852.2,513.6 1852.2,540.3 1856.0,512.5 1856.0,497.4 1856.0,543.7 1856.0,521.7 1859.8,500.7 1859.8,552.2 1859.8,536.2 1863.6,511.8 1863.6,507.0 1863.6,538.3 1867.4,528.9 1867.4,546.8 1867.4,507.2 1867.4,531.9 1871.2,521.5 1871.2,488.8 1871.2,539.1 1871.2,530.0 1874.9,550.9 1874.9,506.7 1878.7,519.4 1878.7,534.4 1878.7,508.1 1882.5,528.2 1882.5,520.8 1882.5,551.2 1882.5,528.7"/></g>
<g id="dash"><line x1="909" y1="171" x2="909" y2="1387" stroke="#000" stroke-width="6" stroke-dasharray="38 13.5"/></g>
<g fill="#000" shape-rendering="crispEdges">
<rect x="272" y="136" width="6" height="1273"/>
<rect x="251" y="1394" width="1729" height="5"/>
<rect x="263" y="1339.12" width="10" height="5.3"/>
<rect x="251" y="1284.43" width="22" height="5.3"/>
<rect x="263" y="1229.75" width="10" height="5.3"/>
<rect x="251" y="1175.07" width="22" height="5.3"/>
<rect x="263" y="1120.39" width="10" height="5.3"/>
<rect x="251" y="1065.70" width="22" height="5.3"/>
<rect x="263" y="1011.02" width="10" height="5.3"/>
<rect x="251" y="956.34" width="22" height="5.3"/>
<rect x="263" y="901.66" width="10" height="5.3"/>
<rect x="251" y="846.98" width="22" height="5.3"/>
<rect x="263" y="792.29" width="10" height="5.3"/>
<rect x="251" y="737.61" width="22" height="5.3"/>
<rect x="263" y="682.93" width="10" height="5.3"/>
<rect x="251" y="628.25" width="22" height="5.3"/>
<rect x="263" y="573.56" width="10" height="5.3"/>
<rect x="251" y="518.88" width="22" height="5.3"/>
<rect x="263" y="464.20" width="10" height="5.3"/>
<rect x="251" y="409.52" width="22" height="5.3"/>
<rect x="263" y="354.83" width="10" height="5.3"/>
<rect x="251" y="300.15" width="22" height="5.3"/>
<rect x="263" y="245.47" width="10" height="5.3"/>
<rect x="251" y="190.78" width="22" height="5.3"/>
<rect x="263" y="136.10" width="10" height="5.3"/>
<rect x="366.85" y="1398" width="5.3" height="23"/>
<rect x="461.41" y="1398" width="5.3" height="11"/>
<rect x="555.98" y="1398" width="5.3" height="23"/>
<rect x="650.54" y="1398" width="5.3" height="11"/>
<rect x="745.10" y="1398" width="5.3" height="23"/>
<rect x="839.66" y="1398" width="5.3" height="11"/>
<rect x="934.23" y="1398" width="5.3" height="23"/>
<rect x="1028.79" y="1398" width="5.3" height="11"/>
<rect x="1123.35" y="1398" width="5.3" height="23"/>
<rect x="1217.91" y="1398" width="5.3" height="11"/>
<rect x="1312.47" y="1398" width="5.3" height="23"/>
<rect x="1407.04" y="1398" width="5.3" height="11"/>
<rect x="1501.60" y="1398" width="5.3" height="23"/>
<rect x="1596.16" y="1398" width="5.3" height="11"/>
<rect x="1690.72" y="1398" width="5.3" height="23"/>
<rect x="1785.29" y="1398" width="5.3" height="11"/>
<rect x="1879.85" y="1398" width="5.3" height="23"/>
<rect x="1974.41" y="1398" width="5.3" height="11"/>
</g>
<g font-family="'Liberation Sans', sans-serif" font-size="52" fill="#000">
<text x="233.8" y="1411.9" text-anchor="end">0</text>
<text x="233.8" y="1302.5" text-anchor="end">50</text>
<text x="233.8" y="1193.2" text-anchor="end">100</text>
<text x="233.8" y="1083.8" text-anchor="end">150</text>
<text x="233.8" y="974.4" text-anchor="end">200</text>
<text x="233.8" y="865.1" text-anchor="end">250</text>
<text x="233.8" y="755.7" text-anchor="end">300</text>
<text x="233.8" y="646.3" text-anchor="end">350</text>
<text x="233.8" y="537.0" text-anchor="end">400</text>
<text x="233.8" y="427.6" text-anchor="end">450</text>
<text x="233.8" y="318.2" text-anchor="end">500</text>
<text x="233.8" y="208.9" text-anchor="end">550</text>
<text x="370.0" y="1479.4" text-anchor="middle">30</text>
<text x="559.1" y="1479.4" text-anchor="middle">35</text>
<text x="748.2" y="1479.4" text-anchor="middle">40</text>
<text x="937.4" y="1479.4" text-anchor="middle">45</text>
<text x="1126.5" y="1479.4" text-anchor="middle">50</text>
<text x="1315.6" y="1479.4" text-anchor="middle">55</text>
<text x="1504.8" y="1479.4" text-anchor="middle">60</text>
<text x="1693.9" y="1479.4" text-anchor="middle">65</text>
<text x="1883.0" y="1479.4" text-anchor="middle">70</text>
</g>
<g font-family="'Liberation Serif', serif" font-size="75" fill="#000">
<text transform="translate(75 689.5) rotate(-90)" text-anchor="middle">Intensity(Arb.Unit)</text>
<text x="1060.6" y="1577" text-anchor="middle">2θ(deg.)</text>
</g>
<text transform="translate(839.4 338) rotate(-90)" font-family="'Liberation Sans', sans-serif" font-size="66.5" fill="#000"><tspan dx="1.00" textLength="31.69" lengthAdjust="spacingAndGlyphs">F</tspan><tspan dx="0.60" textLength="36.23" lengthAdjust="spacingAndGlyphs">e</tspan><tspan font-size="44.5" dy="19.3" dx="1.00">0</tspan><tspan font-size="44.5" dx="1.20">.</tspan><tspan font-size="44.5" dx="0.80">8</tspan><tspan dy="-19.3" textLength="46.25" lengthAdjust="spacingAndGlyphs">G</tspan><tspan dx="1.60" textLength="28.84" lengthAdjust="spacingAndGlyphs">a</tspan><tspan font-size="44.5" dy="19.3" dx="6.00">0</tspan><tspan font-size="44.5" dx="1.20">.</tspan><tspan font-size="44.5" dx="0.20">2</tspan><tspan dy="-19.3" dx="1.20" textLength="39.57" lengthAdjust="spacingAndGlyphs">B</tspan></text>
<g id="legend">
<rect x="1981.3" y="50.3" width="313.4" height="329.4" fill="#fff" stroke="#000" stroke-width="2.8"/>
<rect x="1989" y="94" width="147" height="2" fill="#37AD6B" shape-rendering="crispEdges"/>
<text x="2152.8" y="118.2" font-family="'Liberation Sans', sans-serif" font-size="66" fill="#000">40W</text>
<rect x="1989" y="174" width="147" height="2" fill="#1A6FDF" shape-rendering="crispEdges"/>
<text x="2152.8" y="198.2" font-family="'Liberation Sans', sans-serif" font-size="66" fill="#000">30W</text>
<rect x="1989" y="254" width="147" height="2" fill="#F14040" shape-rendering="crispEdges"/>
<text x="2152.8" y="278.2" font-family="'Liberation Sans', sans-serif" font-size="66" fill="#000">25W</text>
<rect x="1989" y="334" width="147" height="2" fill="#515151" shape-rendering="crispEdges"/>
<text x="2152.8" y="358.2" font-family="'Liberation Sans', sans-serif" font-size="66" fill="#000">20W</text>
</g>
</svg>
</body></html>
